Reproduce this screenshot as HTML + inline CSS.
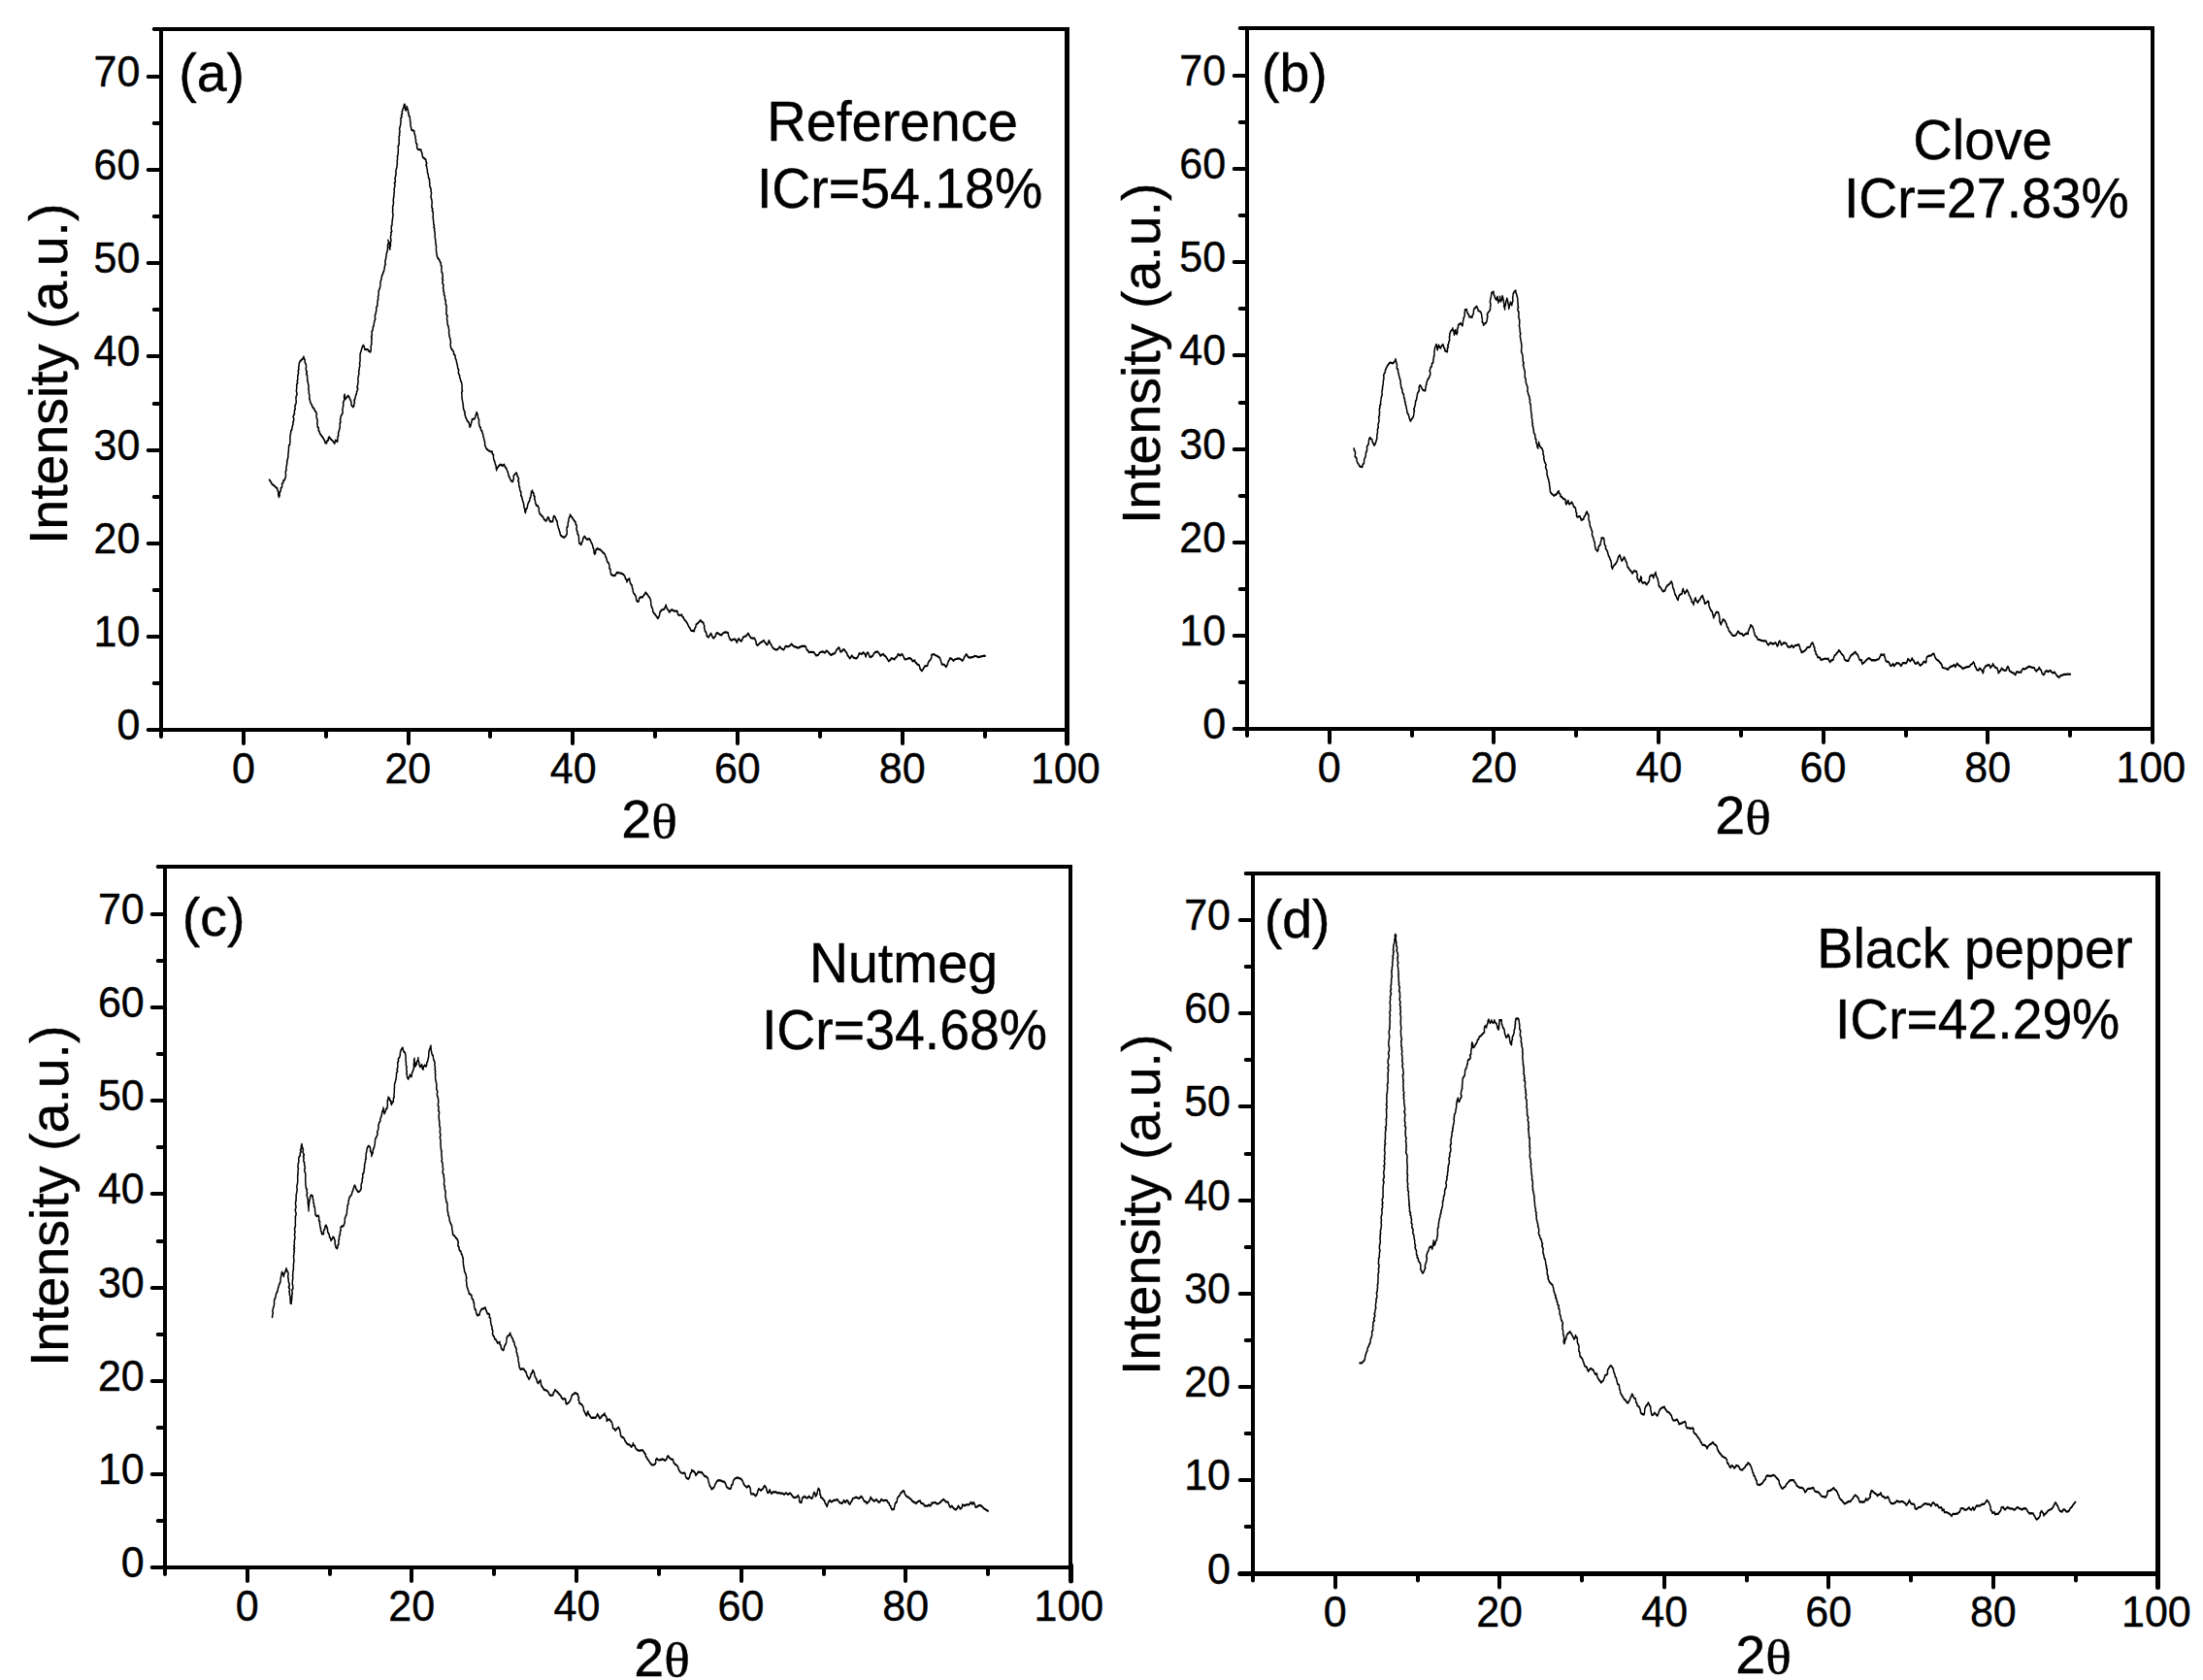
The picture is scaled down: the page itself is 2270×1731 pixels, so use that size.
<!DOCTYPE html>
<html><head><meta charset="utf-8"><title>XRD patterns</title>
<style>html,body{margin:0;padding:0;background:#fff}svg{display:block}text{font-family:"Liberation Sans",sans-serif;fill:#000;stroke:#000;stroke-width:.42px;font-kerning:none}</style>
</head><body>
<svg width="2270" height="1731" viewBox="0 0 2270 1731">
<rect width="2270" height="1731" fill="#fff"/>
<g id="panel-a">
<g stroke="#000" fill="none">
<path d="M158.7 30H166" stroke-width="4" stroke-linecap="round"/>
<path d="M164 30H1102" stroke-width="4"/>
<path d="M166 30V752" stroke-width="4"/>
<path d="M164 752H1102" stroke-width="4"/>
<path d="M1099.5 30V752" stroke-width="5"/>
<path d="M152.7 752H166" stroke-width="4" stroke-linecap="round"/>
<path d="M1099.5 750V766" stroke-width="5" stroke-linecap="round"/>
</g>
<path d="M158.7 704H166M152.7 656H166M158.7 608H166M152.7 560H166M158.7 512H166M152.7 464H166M158.7 416H166M152.7 367H166M158.7 319H166M152.7 271H166M158.7 223H166M152.7 175H166M158.7 127H166M152.7 79H166M166 752V759M251 752V766M336 752V759M421 752V766M505 752V759M590 752V766M675 752V759M760 752V766M845 752V759M930 752V766M1015 752V759" stroke="#000" stroke-width="4" fill="none" stroke-linecap="round"/>
<text transform="translate(120.47,762) scale(1,1.03)" font-size="43" text-anchor="start">0</text>
<text transform="translate(96.55,665.86) scale(1,1.03)" font-size="43" text-anchor="start">10</text>
<text transform="translate(96.55,569.72) scale(1,1.03)" font-size="43" text-anchor="start">20</text>
<text transform="translate(96.55,473.59) scale(1,1.03)" font-size="43" text-anchor="start">30</text>
<text transform="translate(96.55,377.45) scale(1,1.03)" font-size="43" text-anchor="start">40</text>
<text transform="translate(96.55,281.31) scale(1,1.03)" font-size="43" text-anchor="start">50</text>
<text transform="translate(96.55,185.17) scale(1,1.03)" font-size="43" text-anchor="start">60</text>
<text transform="translate(96.55,89.03) scale(1,1.03)" font-size="43" text-anchor="start">70</text>
<text transform="translate(238.91,806.6) scale(1,1.03)" font-size="43" text-anchor="start">0</text>
<text transform="translate(396.43,806.6) scale(1,1.03)" font-size="43" text-anchor="start">20</text>
<text transform="translate(566.75,806.6) scale(1,1.03)" font-size="43" text-anchor="start">40</text>
<text transform="translate(735.88,806.6) scale(1,1.03)" font-size="43" text-anchor="start">60</text>
<text transform="translate(905.76,806.6) scale(1,1.03)" font-size="43" text-anchor="start">80</text>
<text transform="translate(1062.04,806.6) scale(1,1.03)" font-size="43" text-anchor="start">100</text>
<text transform="translate(69,561.12) rotate(-90) scale(1,1.015)" font-size="55.5">Intensity (a.u.)</text>
<text transform="translate(640.21,863) scale(1,1)" font-size="55.5" text-anchor="start">2</text>
<text transform="translate(671.2,863.5) scale(1.09,1)" font-size="51" style="font-family:'Liberation Serif',serif">θ</text>
<text transform="translate(184.16,93.6) scale(1,1)" font-size="55.5" text-anchor="start">(a)</text>
<text transform="translate(790.2,145) scale(1.0107,1.03)" font-size="55.5" text-anchor="start">Reference</text>
<text transform="translate(779.88,214) scale(0.9992,1.03)" font-size="55.5" text-anchor="start">ICr=54.18%</text>
<path transform="scale(1,1.5)" d="M277.1 329.33 278.34 330.33 279.45 331.39 280.33 332.58 281.9 333.4 283.19 334.07 284.43 334.78 285.7 335.47 285.95 336.67 286.72 337.8 286.71 339.03 286.92 340.23 287.4 341.4 288.21 340.26 287.97 338.92 288.69 337.76 289.4 336.6 289.36 335.47 290.53 334.54 290.81 333.47 290.51 332.3 291.91 331.41 291.8 330.27 293.3 329.54 294 328.4 294.38 327.3 294.55 326.19 294.26 325.04 294.32 323.91 295.09 322.85 294.79 321.69 295.14 320.59 295.41 319.49 295.9 318.4 295.56 317.26 296.2 316.2 296.34 315.1 296.95 314.03 296.77 312.9 297.07 311.81 297.09 310.7 297.44 309.61 297.38 308.5 297.6 307.4 297.59 306.27 298.61 305.23 298.84 304.12 298.9 302.99 298.99 301.87 298.8 300.71 298.94 299.59 299.24 298.49 299.7 297.4 299.69 296.06 300.89 294.91 300.94 293.58 301.5 292.33 302.1 291.2 301.82 290 302.67 288.89 302.77 287.71 302.07 286.47 302.52 285.33 303.5 284.23 303.25 283.03 303.5 281.87 304.3 280.86 303.96 279.72 303.89 278.61 304.77 277.62 305.22 276.57 305.2 275.47 305.03 274.32 304.92 273.17 305.28 272.04 306.06 270.92 305.92 269.77 305.31 268.6 305.53 267.47 305.9 266.33 305.63 265.16 305.74 264.02 306.71 262.93 306.2 261.74 306.78 260.63 306.82 259.48 306.7 258.32 307.2 257.2 307.65 256.05 307.2 254.83 307.96 253.7 307.58 252.48 308.11 251.34 308.09 250.15 308.6 249 309.45 248 310.7 247.2 312.28 246.26 313 244.93 313.18 246.24 314.21 247.4 314.09 248.76 315 249.93 315.5 251.05 315.49 252.21 315.18 253.39 315.59 254.51 316.37 255.61 315.59 256.82 316.63 257.9 316.5 259.07 316.95 260.16 316.58 261.31 317.25 262.39 317.48 263.49 317.91 264.59 318.08 265.7 317.73 266.85 318.29 267.93 318.2 269.07 318.32 270.22 318.81 271.34 318.95 272.5 318.63 273.69 319.38 274.79 319.6 275.93 320.53 277.32 321.6 278.67 322.15 279.87 323.7 280.69 324.3 281.87 325.69 283.12 326.4 284.6 326.07 285.84 326.28 287.06 327.02 288.26 327.21 289.47 326.72 290.72 327.1 291.93 327.14 293.16 328.42 294.14 328.12 295.43 329.1 296.47 329.78 297.96 331.2 299.2 332.11 300.15 333.2 301 333.88 302.05 334.81 303.03 335 304.2 336.7 304.2 336.83 303.06 338.37 302.29 338.23 301.08 339.1 300.13 340.43 301.37 342.1 302.4 343.57 303.43 344.6 304.67 345.44 303.6 345.6 302.4 347.6 303.33 347.97 302.26 347.9 301.14 348.04 300.05 348.89 299.03 348.44 297.87 348.88 296.8 349.5 295.76 349.7 294.67 350.3 293.47 350.26 292.23 350.11 290.98 351.02 289.81 350.46 288.53 351 287.33 351.2 285.98 352.16 284.83 353.1 283.67 353.18 282.57 352.9 281.45 353.17 280.37 353.52 279.29 353.88 278.2 353.54 277.08 353.93 276 354.65 274.94 354.89 273.86 354.5 272.73 355.1 270.93 355.16 272.02 355.36 273.09 355.8 274.13 357.27 273.01 358.6 271.8 359.94 272.84 360.6 274.13 361.57 275.41 362.05 276.77 362 278.2 364 279.6 364.79 278.52 364.92 277.34 365.55 276.23 364.88 274.95 365.9 273.9 366.1 272.73 366.61 271.6 367.39 270.52 367.48 269.29 368.2 268.2 368.83 267.04 367.9 265.82 368.51 264.66 368.8 263.48 369.07 262.31 368.97 261.12 368.8 259.93 369.26 258.74 369.59 257.54 369.95 256.34 369.57 255.08 370.17 253.9 370.2 252.67 370.75 251.62 370.83 250.55 370.44 249.46 370.96 248.41 371.15 247.35 370.95 246.27 371.11 245.21 370.96 244.13 371.2 243.07 371.85 241.73 372.45 240.38 372.9 239 374.3 237.13 375.44 238.4 375.7 239.87 377.39 240.07 379.1 240.07 379.97 241.16 381.6 241.73 382.24 240.62 382.3 239.45 382.15 238.27 382.5 237.13 382.86 235.97 382.79 234.79 382.73 233.62 383.27 232.46 382.54 231.26 383.37 230.12 383.2 228.93 383.04 227.79 384.01 226.82 384.23 225.73 384.31 224.62 385.16 223.63 385.3 222.53 385.63 221.32 386.09 220.13 386.75 218.96 386.37 217.66 386.44 216.41 387.3 215.27 387.32 214.18 387.96 213.15 387.68 212.04 387.87 210.97 388.91 209.98 388.7 208.87 389.11 207.66 389.1 206.42 389.83 205.24 389.44 203.96 390.05 202.77 390.1 201.53 390.07 200.28 390.62 199.08 391.33 197.9 391.75 196.69 392.01 195.47 391.9 194.2 392.28 193 392.99 191.87 393.21 190.64 393.52 189.43 394.4 188.33 394.82 187.17 395.6 186.07 396.03 184.91 396.31 183.73 396.5 182.53 397.26 181.47 396.79 180.29 396.94 179.16 397.51 178.08 397.59 176.95 398.1 175.87 398.12 174.58 398.66 173.36 399.21 172.13 399.4 170.87 399.51 169.69 399.44 168.51 400.13 167.36 400.41 166.2 400 165 400.43 166.25 401.22 167.44 401.65 168.69 401.12 170.07 401.9 171.27 401.55 170.06 402.43 168.92 402.43 167.74 402.29 166.54 402.97 165.4 402.8 164.2 402.39 163.09 402.64 162.01 403.11 160.94 402.76 159.83 403.76 158.78 403.23 157.67 403.25 156.57 403.26 155.48 404.02 154.43 404 153.33 404.05 152.22 404.36 151.12 404.5 150.01 404.77 148.9 405.04 147.8 404.85 146.68 404.43 145.54 404.84 144.44 404.62 143.32 404.55 142.2 405.16 141.11 405.3 140 405.64 138.93 405.15 137.83 405.35 136.75 405.53 135.67 406.02 134.61 405.92 133.52 406.13 132.45 406.38 131.37 406.08 130.28 406.3 129.2 406.78 128.13 407.06 127.06 406.33 125.91 407.41 124.88 407.34 123.78 406.85 122.65 407.37 121.59 407.72 120.52 408.19 119.45 407.9 118.33 407.98 117.13 408.4 115.96 408.96 114.8 409.08 113.6 409.46 112.42 409.15 111.19 409.4 110 409.69 108.82 409.33 107.6 410.03 106.44 410.26 105.25 410.2 104.06 410.41 102.87 410.3 101.67 410.12 100.54 411.01 99.47 411.23 98.36 411.36 97.25 411.01 96.11 411.42 95.02 411.04 93.88 411.82 92.8 411.5 91.67 412.09 90.56 411.73 89.37 411.64 88.21 412.24 87.09 412.55 85.96 412.99 84.84 412.89 83.67 413.1 82.53 412.87 81.36 414 80.35 413.48 79.15 414.56 78.13 414.16 76.94 414.8 75.87 415.15 74.78 416.15 73.83 416 72.63 416.9 71.67 417.58 72.67 417.48 73.77 417.56 74.85 418.1 75.87 419.1 74.68 419.4 73.33 419.8 74.64 420.6 75.87 420.43 77.04 421.24 78.09 421.06 79.26 422.31 80.25 422.48 81.38 422.5 82.53 422.72 83.65 423.23 84.73 423 85.89 423.35 86.99 423.73 88.09 424 89.2 426.9 90 426.83 91.29 427.43 92.51 428 93.73 428.1 95 428.58 96.06 428.44 97.21 428.74 98.29 429.84 99.26 429.51 100.44 429.74 101.53 430.6 102.53 432.2 102.75 433.8 102.93 434.17 104.2 435.02 105.38 435.11 106.69 435.6 107.93 437.2 108.77 438.8 109.6 438.93 110.86 439.8 112.06 439.01 113.4 439.74 114.61 440 115.87 440.42 116.96 440.31 118.13 440.88 119.21 441.28 120.31 441.38 121.45 441.9 122.53 442.69 123.59 442.49 124.76 442.94 125.85 442.67 127.04 443.03 128.15 443.8 129.2 444.17 130.27 444.07 131.36 444.57 132.42 444.35 133.52 444.05 134.62 444.08 135.7 444.67 136.76 444.96 137.83 445.22 138.9 445 140 445.02 141.17 444.83 142.36 445.86 143.48 445.29 144.68 446.27 145.8 446.24 146.98 446.35 148.15 446 149.35 446.54 150.49 446.5 151.67 446.84 152.77 446.72 153.9 447.47 154.97 446.96 156.13 447.8 157.19 447.56 158.33 448.02 159.43 448.25 160.53 448.1 161.67 448.23 162.82 448.49 163.96 448.72 165.11 448.84 166.26 448.88 167.42 449.45 168.54 449.56 169.7 449.4 170.87 449.48 172.13 449.7 173.38 450.04 174.62 450.3 175.87 451.07 177.23 452.5 178.33 453.34 179.64 454.4 180.87 454.24 182.09 455.15 183.22 454.82 184.46 454.98 185.66 455.1 186.86 455.97 187.99 456 189.2 456.29 190.27 455.72 191.38 456.58 192.43 455.81 193.54 456.02 194.62 456.94 195.67 456.92 196.75 456.47 197.85 457.07 198.91 456.9 200 457.73 200.99 457.35 202.19 458.18 203.19 458.5 204.27 458.4 205.43 459.33 206.52 459.24 207.68 459.15 208.85 460.09 209.93 460.1 211.09 459.79 212.27 460.2 213.4 459.86 214.59 459.91 215.77 460.97 216.9 460.65 218.09 460.49 219.27 460.88 220.43 461 221.6 461.05 222.74 461.85 223.8 462.23 224.91 462.45 226.03 462.78 227.14 462.48 228.32 462.77 229.43 462.97 230.56 463.3 231.67 463.98 232.79 464.24 233.97 464.52 235.14 464.13 236.39 464.27 237.58 464.64 238.75 465.4 239.87 466.64 240.76 467.52 241.78 467.51 243.13 468.8 244 469.23 245.1 469.29 246.25 470.14 247.29 470.38 248.41 470.71 249.53 471.19 250.62 471.5 251.73 471.74 252.97 472.73 254.11 472.33 255.43 472.53 256.67 473.59 257.8 473.6 259.07 474.31 260.25 474.69 261.53 475.6 262.67 475.79 263.82 476.1 264.97 476.21 266.13 475.91 267.3 476.54 268.44 475.66 269.63 475.84 270.78 476.03 271.93 475.94 273.1 476.28 274.25 476.5 275.4 476.94 276.55 477.06 277.75 477.5 278.9 477.31 280.13 477.84 281.28 478.5 282.4 479.16 283.4 478.86 284.55 479.44 285.56 479.8 286.61 480.5 287.6 481.51 289.06 483.1 290.27 483.7 291.75 484.1 293.27 484.98 292.31 485.42 291.27 485.69 290.19 486.22 289.16 486.4 288.07 489 287.6 489.78 286.57 489.9 285.41 490.73 284.4 491 283.27 491.95 284.19 492.17 285.28 492.5 286.33 492.82 287.42 493.6 288.45 493.51 289.58 493.48 290.71 493.78 291.79 494.2 292.87 495.33 293.93 495.5 295.32 496.8 296.33 497.02 297.42 497.77 298.41 497.83 299.52 498.33 300.56 498.8 301.6 499.16 302.83 499.72 304.04 499.46 305.36 500.25 306.53 500.8 307.73 501.94 308.7 503.4 309.47 505.26 310.08 507.3 310.33 507.18 311.62 508.61 312.68 508.38 313.99 508.64 315.22 509.3 316.4 509.94 317.46 510.17 318.58 510.93 319.63 511.16 320.75 511.35 321.88 511.6 323 512 321.77 513.2 320.8 514.31 319.8 515.8 319.07 517.8 319.93 519.5 319.07 520.21 320.51 521.7 321.67 522.32 322.84 523.03 323.98 523.7 325.13 523.88 326.55 524.96 327.77 525.7 329.07 526.61 330.22 528.3 330.87 528.87 329.69 529.48 328.52 529.12 327.2 530 326.07 532.2 324.73 532.67 325.78 533.07 326.84 533.9 327.8 534.58 328.98 533.79 330.26 534.81 331.42 534.65 332.65 534.8 333.87 535.55 334.86 535.6 335.97 535.88 337.05 536.87 338 536.8 339.13 536.73 340.27 537.68 341.23 537.97 342.3 538.3 343.36 538.8 344.4 539.32 345.49 539.77 346.59 539.75 347.77 540.22 348.87 540.89 349.94 540.8 351.12 541.4 352.2 541.82 350.99 542.16 349.77 543.3 348.73 543.53 347.6 543.82 346.47 544.44 345.41 545.3 344.4 545.97 343.39 545.98 342.27 546.92 341.31 547.16 340.23 547.3 339.13 547.49 337.91 548.6 336.93 548.86 338.18 550.1 339.13 549.9 340.28 551.13 341.26 550.51 342.45 551.31 343.48 551.54 344.57 551.8 345.67 552.48 346.89 554.23 347.6 555.1 348.73 555.4 349.82 555.28 350.96 555.83 352.02 556.4 353.07 558.07 354.15 559.7 355.27 560.28 356.37 561.42 357.18 562.7 357.93 563.75 356.63 564.6 355.27 565.75 356.16 566.01 357.35 566.9 358.33 569.5 358.33 569.89 357.02 570.05 355.66 570.8 354.4 572.12 355.26 572.57 356.45 573.5 357.47 574.28 358.46 574.32 359.56 574.46 360.66 575.07 361.67 575.4 362.73 576.17 363.72 576.35 364.83 577.04 365.83 577.19 366.96 578 367.93 579.63 368.62 581.3 369.27 583.3 367.93 584.08 366.89 584.27 365.8 584.27 364.68 583.97 363.54 584.07 362.43 585.15 361.42 585.27 360.32 585.2 359.2 585.79 358.09 585.97 356.91 586.34 355.76 587.24 354.7 587.5 353.53 588.59 354.66 589.8 355.73 590.82 356.79 591.88 357.83 593.1 358.8 593.16 359.93 594.1 360.93 594.37 362.03 593.92 363.23 594.32 364.31 595.1 365.33 594.96 366.5 596.14 367.53 596.39 368.65 596.43 369.8 596.54 370.94 596.59 372.09 597 373.2 599 374.07 599.25 372.83 600.36 371.81 600.54 370.55 601.22 369.42 602.3 368.4 603.45 369.55 604.9 370.53 607.5 370.13 608.32 371.31 609.1 372.49 610.1 373.6 610.67 374.74 610.99 375.93 611.71 377.05 612 378.24 612.01 379.48 612.7 380.6 613.71 379.72 613.62 378.5 614.34 377.53 615.4 376.67 616.87 377.31 618.6 377.53 619.84 378.46 621.06 379.41 622.6 380.13 623.54 381.16 623.98 382.31 624.8 383.37 625.2 384.53 625.76 385.79 627.06 386.8 627.8 388 627.97 389.12 627.94 390.27 628.99 391.27 629.08 392.41 629.2 393.54 629.8 394.6 631.6 395.33 633.7 395.47 634.63 394.34 635.7 393.27 637.33 393.37 638.9 393.67 641.1 394.07 642.9 395 644.1 396 644.31 397.31 645.74 398.35 645.9 399.67 646.9 398.4 648.6 397.53 648.98 399.08 649.5 400.6 650.41 401.49 651.3 402.4 651.43 403.73 652.18 405 652.3 406.33 652.94 407.5 654.1 408.47 655.09 409.5 655.5 410.67 655.58 411.9 656.3 413 658.2 413 658.41 411.54 659.5 410.27 662.2 410.27 663.01 409.08 664.41 408.13 665.2 406.93 667.2 408.47 668.18 409.58 669.5 410.53 670.08 411.63 670.58 412.75 670.7 413.91 670.9 415.07 671.11 416.32 671.94 417.48 672.66 418.65 672.7 419.93 673.87 421.23 675.4 422.33 676.59 423.6 677.9 424.8 678.84 423.82 679.36 422.76 679.83 421.69 679.9 420.53 681.8 419 684.5 418.4 685.34 417.02 686.3 415.67 686.68 417.11 687.7 418.4 688.93 419.39 689.8 420.53 690.85 419.54 692.2 418.73 694.5 419.67 697.6 419.67 698.34 420.64 698.43 421.79 699.5 422.67 702.6 422.33 702.98 423.49 704.38 424.3 704.9 425.4 706.37 426.4 707.6 427.53 708.68 428.82 709.5 430.2 710.53 431.17 711.4 432.21 712.2 433.27 713.82 433.32 715.4 433.53 715.53 432.34 716.37 431.28 717.07 430.19 717.2 429 718.58 428.29 719.9 427.53 721.7 426 723.06 427.09 724.9 427.8 725.16 428.88 725.9 429.89 725.6 431.04 726.2 432.07 726.27 433.28 727.38 434.29 728.13 435.37 728.1 436.6 729.9 437.8 730.81 436.9 731.74 436 732.6 435.07 733.43 436.2 733.95 437.45 735.3 438.4 736.36 437.55 737.43 436.69 737.68 435.47 739 434.73 740.48 435.28 741.86 435.94 743.5 436.27 744.53 435.15 746.2 434.47 748.29 434.29 750.3 434.73 750.5 436.14 751.2 437.47 751.98 438.85 753.5 439.93 755.4 439.18 757.6 439 758.37 440.24 759.4 441.4 759.94 439.93 761.2 438.67 762.36 439.73 763.9 440.53 764.95 439.21 765.7 437.8 767.19 437.16 768.9 436.87 769.82 435.83 771.2 435.07 771.71 436.16 772.71 437.07 773.5 438.07 775.46 438.43 777.5 438.4 778.31 439.59 779.07 440.79 779.12 442.17 780.3 443.27 781.77 442.6 783 441.73 784.36 441.13 785.76 440.56 787.1 439.93 787.97 441.03 789.05 442.02 790.3 442.93 791.44 442.07 791.68 440.9 792.5 439.93 793.08 441.24 794.14 442.39 795.2 443.53 796.03 444.75 797.5 445.67 799.01 446.18 800.7 446.27 802.33 445.36 803.4 444.13 804.5 445.07 805.82 445.82 807.5 446.27 808.54 445.11 809.3 443.87 810.9 444.02 812.5 444.13 814.25 443.35 815.7 442.33 816.81 443.39 818.4 444.13 820.48 444.55 822.5 445.07 824.26 444.41 826.1 443.87 828.19 443.74 830.2 444.13 830.77 445.2 831.33 446.27 832.72 447.04 833.4 448.07 835.14 447.85 836.87 447.89 838.6 448.13 839.82 449.17 840.9 450.27 843.2 449.93 844.5 448.4 846.01 447.83 847.7 447.53 850 448.4 851.8 446.93 854.1 448.4 855.11 449.43 856.8 449.93 858.38 449.04 860.4 448.73 861.11 447.47 862.2 446.33 864.3 444.8 865.35 445.69 865.48 446.84 866.3 447.8 867.86 447.04 869 446 870.4 446.6 871.3 447.53 872.63 448.59 873.1 449.93 874.49 451.12 875.8 452.33 876.83 451.33 877.7 450.27 879.5 451.73 882.2 452.33 883.71 451.48 884.5 450.27 885.4 448.73 888.1 449.33 889.5 448.13 890.84 448.96 891.67 449.99 892.2 451.13 892.48 450.05 893.11 449.06 894 448.13 895.16 449.15 895.59 450.43 896.7 451.47 898.16 450.93 899.5 450.27 900.35 449.09 901.7 448.13 904 447.53 905.35 448.4 906.33 449.44 907.2 450.53 908.57 449.73 910.3 449.33 911.15 450.26 912.59 450.84 913.5 451.73 914.6 452.99 915.8 454.2 917.42 453.28 918.5 452.07 920.11 452.52 921.7 453 922.38 451.99 923.86 451.32 924.78 450.42 925.3 449.33 927.6 450.27 929.4 449.33 930.45 450.19 931.16 451.19 931.68 452.27 933 453 934.53 452.68 935.98 452.18 937.6 452.07 939.33 452.92 940.3 454.2 942.6 453.6 943.07 454.8 944.4 455.67 945.56 456.48 947.1 456.93 947.67 458.11 948 459.33 950 460.87 951.03 459.77 952.01 458.65 953 457.53 955.7 457.2 956.17 455.78 957.1 454.47 958.9 453 959.88 451.54 959.8 449.93 962.1 449.33 963.62 450.03 965.3 450.53 966.69 451.1 968.06 451.69 968.9 452.67 969.4 453.86 969.97 455.04 970.3 456.27 973 456.6 974.8 458.13 975.87 457 976.55 455.75 977.1 454.47 978.1 453.3 978.9 452.07 980.93 452.77 982.5 453.87 983.64 453.06 985.2 452.67 986.77 452.37 988.4 452.33 990.15 452.96 991.6 453.87 992.85 452.93 993.4 451.73 994.56 450.54 995.7 449.33 996.65 450.2 997.43 451.17 998.9 451.73 1002 451.47 1004.8 450.53 1006.46 450.84 1007.9 451.47 1010.21 451.09 1012.5 450.67 1014.1 450.41 1015.7 450.67" stroke="#000" stroke-width="1.5" fill="none" stroke-linejoin="round"/>
</g>
<g id="panel-b">
<g stroke="#000" fill="none">
<path d="M1277.7 29H1285" stroke-width="4" stroke-linecap="round"/>
<path d="M1283 29H2220" stroke-width="4"/>
<path d="M1285 29V751" stroke-width="4"/>
<path d="M1283 751H2220" stroke-width="4"/>
<path d="M2218 29V751" stroke-width="4"/>
<path d="M1271.7 751H1285" stroke-width="4" stroke-linecap="round"/>
<path d="M2218 749V765" stroke-width="4" stroke-linecap="round"/>
</g>
<path d="M1277.7 703H1285M1271.7 655H1285M1277.7 607H1285M1271.7 559H1285M1277.7 511H1285M1271.7 463H1285M1277.7 415H1285M1271.7 366H1285M1277.7 318H1285M1271.7 270H1285M1277.7 222H1285M1271.7 174H1285M1277.7 126H1285M1271.7 78H1285M1285 751V758M1370 751V765M1455 751V758M1539 751V765M1624 751V758M1709 751V765M1794 751V758M1879 751V765M1964 751V758M2048 751V765M2133 751V758" stroke="#000" stroke-width="4" fill="none" stroke-linecap="round"/>
<text transform="translate(1239.27,761) scale(1,1.03)" font-size="43" text-anchor="start">0</text>
<text transform="translate(1215.35,664.86) scale(1,1.03)" font-size="43" text-anchor="start">10</text>
<text transform="translate(1215.35,568.72) scale(1,1.03)" font-size="43" text-anchor="start">20</text>
<text transform="translate(1215.35,472.59) scale(1,1.03)" font-size="43" text-anchor="start">30</text>
<text transform="translate(1215.35,376.45) scale(1,1.03)" font-size="43" text-anchor="start">40</text>
<text transform="translate(1215.35,280.31) scale(1,1.03)" font-size="43" text-anchor="start">50</text>
<text transform="translate(1215.35,184.17) scale(1,1.03)" font-size="43" text-anchor="start">60</text>
<text transform="translate(1215.35,88.03) scale(1,1.03)" font-size="43" text-anchor="start">70</text>
<text transform="translate(1357.86,805.6) scale(1,1.03)" font-size="43" text-anchor="start">0</text>
<text transform="translate(1515.3,805.6) scale(1,1.03)" font-size="43" text-anchor="start">20</text>
<text transform="translate(1685.52,805.6) scale(1,1.03)" font-size="43" text-anchor="start">40</text>
<text transform="translate(1854.56,805.6) scale(1,1.03)" font-size="43" text-anchor="start">60</text>
<text transform="translate(2024.35,805.6) scale(1,1.03)" font-size="43" text-anchor="start">80</text>
<text transform="translate(2180.54,805.6) scale(1,1.03)" font-size="43" text-anchor="start">100</text>
<text transform="translate(1195,540.12) rotate(-90) scale(1,1.015)" font-size="55.5">Intensity (a.u.)</text>
<text transform="translate(1767.21,859) scale(1,1)" font-size="55.5" text-anchor="start">2</text>
<text transform="translate(1798.2,859.5) scale(1.09,1)" font-size="51" style="font-family:'Liberation Serif',serif">θ</text>
<text transform="translate(1299.96,93.6) scale(1,1)" font-size="55.5" text-anchor="start">(b)</text>
<text transform="translate(1971.25,164) scale(1.0124,1.03)" font-size="55.5" text-anchor="start">Clove</text>
<text transform="translate(1899.89,224) scale(0.9982,1.03)" font-size="55.5" text-anchor="start">ICr=27.83%</text>
<path transform="scale(1,1.5)" d="M1395.4 307.53 1395.12 308.82 1396.24 310 1396.6 311.24 1396.3 312.53 1396.22 313.67 1397.53 314.54 1398.05 315.56 1398.1 316.67 1398.78 317.83 1399.92 318.84 1400.6 320 1402.07 320.61 1403.8 320.67 1404.12 319.28 1405.48 318.1 1405.6 316.67 1405.79 315.48 1406.47 314.36 1407.2 313.25 1407.32 312.06 1407.5 310.87 1408.43 309.69 1408.67 308.4 1408.44 307.04 1409.4 305.87 1410.23 304.9 1410.34 303.8 1410.46 302.71 1410.75 301.65 1411.5 300.67 1413.8 302.07 1414.14 303.42 1415.11 304.62 1415.9 305.87 1417.28 304.74 1417.8 303.33 1418.4 302.12 1418.9 300.89 1418.77 299.59 1419 298.33 1419.42 297.19 1419.52 296.02 1419.34 294.83 1420.3 293.73 1420 292.53 1419.98 291.33 1420.68 290.17 1421.05 289 1420.91 287.78 1420.54 286.55 1421.47 285.42 1421.3 284.2 1421.65 283.14 1421.3 282.02 1421.32 280.94 1422.02 279.9 1421.65 278.78 1422.79 277.78 1422.5 276.67 1422.76 275.56 1423.02 274.45 1423.15 273.32 1423.68 272.24 1424.2 271.16 1424 270 1423.98 268.92 1424.23 267.86 1424.65 266.81 1424.52 265.72 1425.03 264.67 1425.16 263.6 1425.3 262.53 1425.43 261.35 1425.89 260.2 1425.93 259.02 1425.65 257.81 1426.3 256.67 1427.41 255.68 1427.35 254.41 1428.1 253.33 1428.98 252.08 1430 250.87 1431.07 249.89 1432.3 249 1435 249.6 1436.42 248.8 1437.47 247.84 1438.1 246.67 1438.41 247.92 1438.86 249.15 1439.51 250.37 1439.4 251.67 1439.35 252.9 1440.51 253.96 1440.49 255.19 1441.08 256.34 1441.3 257.53 1441.85 258.62 1442.19 259.73 1442.73 260.82 1443.26 261.9 1443.1 263.09 1443.5 264.2 1443.56 265.41 1444.1 266.54 1444.96 267.63 1444.81 268.87 1445.4 270 1446.39 270.95 1446.54 272.08 1446.63 273.23 1447.5 274.2 1447.36 275.37 1448.18 276.42 1448.08 277.58 1448.77 278.64 1449.06 279.76 1449.4 280.87 1449.79 281.92 1449.83 283.04 1450.57 284.02 1451.3 285 1451.85 286.04 1452.11 287.15 1452.73 288.18 1453.4 289.2 1454.57 287.87 1456 286.67 1456.56 285.59 1456.85 284.48 1456.87 283.35 1457.48 282.27 1456.73 281.06 1457.5 280 1457.88 278.89 1458.41 277.8 1458.48 276.64 1458.68 275.5 1459.62 274.48 1459.8 273.33 1460.16 272.29 1460.4 271.22 1460.59 270.14 1461.5 269.2 1462.4 268.13 1462.14 266.88 1462.29 265.69 1463.1 264.6 1464.2 265.48 1465 266.47 1465.6 267.53 1467.06 268.18 1468.8 268.33 1468.75 267.18 1469.16 266.08 1469.26 264.95 1469.97 263.88 1469.98 262.74 1470.6 261.67 1471.28 260.5 1472.5 259.52 1473.1 258.33 1473.75 257.21 1473.83 256.04 1473.13 254.82 1473.69 253.68 1474 252.53 1475.31 251.38 1475.48 249.84 1476.9 248.73 1476.75 247.59 1477.23 246.48 1477.29 245.35 1477.86 244.26 1478 243.13 1477.89 241.99 1478.1 240.87 1478.31 239.76 1478.77 238.71 1479.28 237.67 1480 236.67 1480.9 237.84 1480.69 239.18 1481.3 240.4 1481.33 239.23 1482.52 238.24 1482.5 237.07 1483.31 238.19 1484.4 239.2 1485.24 237.75 1486.9 236.67 1487.38 237.72 1487.74 238.79 1488.81 239.72 1488.8 240.87 1491.3 241.67 1491.54 240.55 1491.29 239.39 1492.34 238.36 1491.76 237.17 1492.69 236.13 1492.8 235 1493.59 233.95 1493.71 232.82 1493.31 231.64 1493.9 230.56 1493.74 229.4 1494.4 228.33 1495.08 227.3 1496.41 226.51 1496.9 225.4 1496.93 226.6 1498.18 227.62 1498.15 228.83 1498.4 230 1499.02 228.92 1498.99 227.71 1499.8 226.67 1500.08 228.19 1501 229.6 1501.73 228.39 1501.66 227.1 1501.75 225.82 1502.58 224.63 1502.5 223.33 1505 222.07 1506.9 223.73 1507.29 222.5 1507.32 221.21 1507.8 219.98 1508.05 218.72 1508.8 217.53 1509.32 216.4 1509.11 215.23 1509.47 214.1 1509.4 212.93 1511.3 212.53 1511.59 213.86 1512.06 215.14 1513.5 216.21 1513.8 217.53 1516.9 217.93 1517.22 216.74 1518.14 215.65 1518.44 214.46 1518.46 213.22 1519 212.07 1520.37 211.31 1521.5 210.4 1522.62 211.79 1523.1 213.33 1525.6 214.2 1526.33 215.29 1526.81 216.42 1526.82 217.61 1527.33 218.73 1527.39 219.91 1527.27 221.12 1528.51 222.14 1528.5 223.33 1529.68 222.54 1531.06 221.87 1531.9 220.87 1532.25 219.7 1532.41 218.52 1532.91 217.37 1532.34 216.13 1533.1 215 1535 213.33 1535.65 212.22 1535.53 211.06 1535.82 209.93 1536.01 208.79 1535.37 207.6 1535.5 206.45 1535.79 205.32 1536.3 204.2 1536.61 202.73 1536.9 201.27 1539 200.4 1539.03 201.94 1540 203.33 1540.55 204.73 1541.9 205.87 1542.41 204.78 1543.1 203.73 1543.27 205.15 1543.44 206.56 1544 207.93 1544.22 206.85 1545.3 205.92 1545.67 204.86 1545.6 203.73 1545.65 204.87 1545.77 206.01 1546.5 207.07 1547.35 205.88 1547.73 204.61 1548.1 203.33 1548.62 204.46 1548.99 205.6 1549.36 206.75 1549.4 207.93 1550.18 209.03 1549.54 210.29 1550.52 211.36 1550.6 212.53 1550.42 211.21 1551.07 209.98 1551.6 208.73 1551.57 207.43 1552.34 206.24 1552.8 205 1553.48 206.44 1553.8 207.93 1554.49 209.27 1554.49 210.69 1554.8 212.07 1555.08 210.92 1555.39 209.78 1556.26 208.72 1556.3 207.53 1557.24 208.5 1557.8 209.6 1558.08 208.35 1558.69 207.13 1559.02 205.88 1558.62 204.58 1559 203.33 1559.17 201.77 1560.3 200.4 1561.9 199.6 1561.82 200.91 1562.68 202.09 1563.1 203.33 1563.56 204.43 1563.81 205.53 1563.84 206.65 1563.91 207.77 1564.25 208.87 1564 210 1564.66 211.08 1563.79 212.26 1564.15 213.36 1565.09 214.42 1564.85 215.55 1565 216.67 1564.79 217.83 1565.25 218.97 1565.85 220.09 1565.68 221.26 1565.76 222.41 1565.3 223.59 1565.78 224.72 1566 225.87 1566.19 226.93 1566.14 228.01 1566.92 229.04 1566.37 230.15 1566.38 231.22 1566.67 232.28 1567 233.33 1567.27 234.42 1567.46 235.51 1567.88 236.58 1567.91 237.68 1567.94 238.77 1567.73 239.88 1567.48 240.99 1567.9 242.07 1568.75 243.48 1569 245 1569.2 246.11 1569.18 247.23 1569.36 248.34 1570.19 249.41 1569.37 250.59 1570 251.67 1570.23 252.93 1570.86 254.14 1571.26 255.38 1571.3 256.67 1571.29 257.86 1571.23 259.05 1572.08 260.17 1572.21 261.35 1572.3 262.53 1572.84 263.78 1573.5 265 1574.11 266.14 1574.12 267.34 1573.83 268.56 1574.48 269.7 1574.8 270.87 1576 272.53 1575.86 273.67 1576.69 274.73 1576.25 275.9 1576.56 277 1577.38 278.06 1577.3 279.2 1577.44 280.39 1577.44 281.59 1577.73 282.78 1577.87 283.97 1578.44 285.13 1578.27 286.35 1578.5 287.53 1578.92 288.68 1578.7 289.89 1579.42 291 1579.02 292.23 1579.8 293.33 1579.88 294.45 1580.43 295.54 1580.3 296.67 1580.92 297.76 1581.76 298.81 1581.9 300 1581.94 301.08 1582.99 302.04 1582.69 303.16 1583.1 304.2 1583.87 305.4 1583.94 306.75 1584.8 307.93 1584.66 306.5 1585.53 305.15 1585.6 303.73 1586.02 305.24 1586.9 306.67 1588.11 307.54 1589.17 308.47 1589.8 309.6 1590.1 310.67 1589.96 311.77 1590.54 312.82 1590.98 313.88 1590.6 315 1591.29 316.1 1591.55 317.3 1592.5 318.33 1593.11 319.52 1592.49 320.82 1593.19 322 1593.8 323.19 1594.1 324.41 1593.9 325.67 1594.54 326.91 1594.93 328.2 1595.75 329.41 1595.9 330.73 1596.62 331.9 1596.43 333.16 1596.97 334.34 1597.03 335.57 1597.29 336.78 1597.5 338 1598.61 338.97 1599.97 339.77 1601.3 340.6 1602.54 339.86 1604.1 339.47 1604.86 338.27 1606.2 337.33 1606.39 338.61 1607.8 339.63 1607.9 340.93 1609.51 341.45 1610.6 342.4 1612.8 343.13 1613.63 344.15 1613.18 345.36 1613.9 346.4 1614.99 345.15 1616 343.87 1616.1 345.22 1617.1 346.4 1618.44 345.74 1619.6 344.93 1620.72 346.32 1621.5 347.8 1623.3 348.93 1623.74 350.15 1623.77 351.42 1624.67 352.58 1624.41 353.88 1625.1 355.07 1628 354.73 1628.8 355.98 1629.4 357.27 1631.8 356.53 1632.19 355.13 1633.5 354 1634.14 352.69 1635.1 351.47 1635.71 352.57 1636.79 353.55 1637.1 354.73 1636.93 356.04 1637.19 357.31 1637.91 358.53 1638.2 359.8 1638.22 360.98 1638.9 362.04 1639.51 363.11 1640 364.2 1640.79 365.41 1640.36 366.81 1640.82 368.07 1641.7 369.27 1642.15 370.53 1642.62 371.78 1643.36 373 1643.3 374.33 1643.72 375.82 1644.4 377.27 1646 378.67 1646.91 377.54 1646.95 376.24 1647.6 375.07 1649.1 374 1649.12 372.88 1649.72 371.81 1650.17 370.73 1650.1 369.6 1652.3 369.6 1652.98 370.74 1653.19 371.94 1653.12 373.17 1653.6 374.33 1654.64 375.31 1654.4 376.59 1655.3 377.6 1656.29 378.81 1656.9 380.13 1657.29 381.55 1658.41 382.79 1659.1 384.13 1659.79 385.27 1660.27 386.44 1660.49 387.63 1660.4 388.87 1661.5 390.67 1662.21 389.32 1663.4 388.13 1664.72 387.35 1665.6 386.33 1666.47 385.32 1666.87 384.19 1667.3 383.07 1668.9 381.27 1669.83 382.55 1670.2 383.97 1671.1 385.27 1672.52 384.06 1673.5 382.67 1674.58 384.09 1675.4 385.6 1676.41 386.85 1676.57 388.26 1677.1 389.6 1678.39 390.37 1679.2 391.4 1680.88 392.53 1682 393.93 1683.6 392.13 1686.3 392.53 1686.69 393.79 1687.31 395.02 1686.69 396.38 1687.4 397.6 1688.42 398.59 1689 399.73 1689.98 398.62 1690.38 397.39 1690.7 396.13 1691.62 397.13 1691.07 398.37 1691.57 399.44 1692.3 400.47 1695 400.13 1696.7 401.6 1697.77 400.68 1698.8 399.73 1699.58 398.59 1699.51 397.33 1699.9 396.13 1701.04 395.3 1702.7 395.07 1703.8 396.87 1704.21 395.55 1705.14 394.37 1706.1 393.2 1706.22 394.49 1706.75 395.71 1707.6 396.87 1708.33 397.91 1708.4 399.03 1708.98 400.09 1709.17 401.2 1709.2 402.33 1710.67 403.33 1711.9 404.47 1713.6 406.27 1715.7 405.6 1716.16 404.48 1716.8 403.4 1718.18 402.12 1720.1 401.2 1721.24 400.37 1722.1 399.4 1723.12 400.81 1723.6 402.33 1723.66 403.57 1724.57 404.66 1725.1 405.82 1725.5 407 1725.96 408.29 1727.13 409.4 1727.7 410.67 1729 412.13 1729.42 410.85 1729.94 409.59 1731 408.47 1733.2 407.73 1733.35 406.61 1733.65 405.51 1734.3 404.47 1734.59 405.61 1735.52 406.61 1735.9 407.73 1737.2 406.54 1738.1 405.2 1739.03 406.22 1739.93 407.25 1740.2 408.47 1741.24 409.5 1741.9 410.67 1742.81 411.82 1743.09 413.16 1744.6 414.13 1745.1 415.4 1745.29 414.16 1745.74 412.96 1746.34 411.8 1747.1 410.67 1747.45 411.9 1748.27 412.98 1749.5 413.93 1750.35 412.72 1751.7 411.73 1752.65 410.28 1754.4 409.2 1754.85 410.29 1755.19 411.4 1756.13 412.41 1756.25 413.56 1756.6 414.67 1758.44 413.92 1759.9 412.87 1760.95 414.04 1760.72 415.44 1761.28 416.7 1762 417.93 1762.84 419.15 1764.2 420.13 1764.61 421.21 1765.04 422.29 1765.38 423.39 1765.8 424.47 1766.14 423.35 1767.21 422.47 1767.64 421.39 1768.6 420.47 1770.6 420.67 1771.04 421.84 1771.58 423 1771.69 424.19 1772.04 425.37 1771.8 426.6 1772.56 427.85 1773.4 429.07 1773.79 427.78 1774.79 426.64 1775.4 425.4 1777.7 426.6 1778.3 427.82 1779.18 428.98 1779.5 430.27 1780.78 431.52 1781.3 433 1782.37 433.95 1783.6 434.8 1784.34 435.77 1785.4 436.6 1787.03 436.61 1788.6 436.33 1789.76 434.97 1790.9 433.6 1792.7 435.13 1795 435.4 1796.3 436.6 1797.75 435.91 1799.1 435.13 1801.3 435.4 1801.26 434.01 1802.03 432.74 1802.7 431.47 1803.56 430.47 1803.8 429.33 1805.6 430.27 1806.26 431.44 1807.08 432.58 1807.2 433.87 1807.88 434.87 1808.06 436 1809 436.93 1810.52 437.97 1811.3 439.33 1813.02 439.36 1814.5 439.93 1817.2 440.27 1819.5 440.27 1820.4 441.18 1820.96 442.24 1822.2 443 1823.26 442.18 1824.5 441.47 1826.7 442.4 1829.5 441.47 1830.65 442.58 1831.3 443.87 1832.46 442.75 1832.7 441.33 1834 440.27 1834.91 441.58 1835.4 443 1836.82 442.29 1838.1 441.47 1840.8 442.07 1841.36 443.38 1842.6 444.47 1844.9 444.47 1846.3 443.27 1847.9 444.8 1849.9 443.27 1851.8 443.22 1853.5 442.67 1854.38 444.13 1854.9 445.67 1855.79 446.84 1856.2 448.13 1858.5 447.53 1860.8 446.33 1862.1 444.8 1864.9 444.47 1865.67 443.42 1866.34 442.32 1867.6 441.47 1868.6 442.6 1868.86 443.94 1869.9 445.07 1869.75 446.44 1870.88 447.66 1871 449 1872.41 450.08 1873 451.47 1875.3 451.73 1876.2 453.27 1878.34 452.97 1880.3 452.33 1882.1 452.68 1883.9 452.33 1884.56 453.67 1885.8 454.8 1887.1 453.53 1888.9 453.27 1889.51 451.75 1890.3 450.27 1891.84 449.46 1893 448.4 1894.14 447.61 1894.8 446.6 1896.6 448.13 1897.8 449.32 1899.4 450.27 1900.14 451.35 1900.37 452.59 1901.6 453.53 1903.15 453.9 1904.8 453.87 1905.13 452.79 1905.93 451.85 1906.6 450.87 1907.71 449.87 1909.4 449.33 1910.5 448.5 1911.8 447.8 1912.77 449.01 1914.3 449.93 1914.95 451.04 1915.54 452.16 1916.2 453.27 1918.4 453.53 1918.35 454.79 1918.9 456 1921.2 454.8 1923 453.53 1924.34 452.55 1926.2 452.07 1928.4 453.53 1930.45 453.43 1932.5 453.53 1934.29 453.09 1936.1 452.67 1936.73 451.64 1937.55 450.67 1938 449.6 1939.8 449.92 1941.6 449.6 1941.73 450.81 1942.45 451.91 1942.75 453.08 1943.4 454.2 1946.1 454.8 1946.96 455.7 1947.46 456.78 1948.8 457.47 1950.7 456 1951.6 457.47 1953.03 456.48 1954.3 455.4 1957 455.67 1957.92 456.61 1959 457.47 1959.75 456.4 1960.7 455.4 1962.46 455.41 1964.2 455.53 1965.32 454.17 1965.9 452.67 1967.15 453.37 1968.2 454.2 1969.58 453.29 1970.2 452.07 1971.04 453.22 1972.3 454.2 1972.78 455.29 1974.1 456 1976.3 454.8 1977.26 456.08 1978.6 457.2 1980.9 456 1982.2 454.47 1984.5 455.07 1984.88 453.88 1984.96 452.65 1985.4 451.47 1987.2 450.53 1990 450.27 1991.04 449.34 1992.7 449 1993.3 450.27 1993.98 451.52 1995 452.67 1996.21 453.4 1997.7 453.87 1998.58 454.89 1999.9 455.67 2001.08 456.92 2001.3 458.4 2002.85 458.83 2004.5 459 2007.2 459.93 2008.17 458.93 2009.5 458.13 2012.2 457.47 2013.6 456.6 2014.9 458.13 2015.69 456.86 2016.7 455.67 2017.82 456.76 2019.5 457.47 2021.12 458.35 2022.6 459.33 2025.4 458.4 2027.44 458.08 2029.5 457.8 2030.5 456.67 2032.2 456 2033.5 454.8 2034.53 456.06 2034.9 457.47 2036.09 458.61 2036.7 459.93 2038.5 460.53 2039.9 459 2041.7 460.2 2042.78 461.17 2043.3 462.33 2043.86 461.14 2043.89 459.84 2044.9 458.73 2045.73 457.75 2047.2 457.2 2049.4 456.6 2050.52 457.55 2050.8 458.73 2051.91 457.92 2053.03 457.1 2053.5 456 2054.42 457.3 2055.8 458.4 2058 459 2058.35 460.11 2059.13 461.16 2059.1 462.33 2061.2 460.8 2062.6 459 2063.75 459.93 2065.3 460.53 2067.6 460.2 2067.87 458.91 2068.9 457.8 2070.04 459.07 2070.3 460.53 2072.6 461.73 2074.8 462.33 2076.7 463.53 2077.36 462.47 2078 461.4 2080.26 461.83 2082.6 461.73 2083.31 460.47 2084.4 459.33 2086.6 459.6 2088.5 458.73 2090.7 457.8 2093.5 458.4 2096.2 458.73 2096.96 460.07 2098.4 461.13 2099.18 460.15 2100.69 459.5 2101.2 458.4 2102.08 459.57 2103.4 460.53 2103.81 461.66 2104.46 462.7 2105.7 463.53 2106.89 462.75 2107.22 461.59 2108.4 460.8 2110.7 461.4 2112.5 460.53 2113.84 461.44 2115.2 462.33 2117.1 461.73 2117.96 462.65 2118.9 463.53 2120.08 464.55 2121.6 465.33 2122.76 464.45 2124.3 463.87 2127 463.27 2128.72 463.32 2130.45 463.11 2132.18 463.04 2133.9 463.27" stroke="#000" stroke-width="1.5" fill="none" stroke-linejoin="round"/>
</g>
<g id="panel-c">
<g stroke="#000" fill="none">
<path d="M162.7 893H170" stroke-width="4" stroke-linecap="round"/>
<path d="M168 893H1105" stroke-width="4"/>
<path d="M170 893V1615" stroke-width="4"/>
<path d="M168 1615H1105" stroke-width="4"/>
<path d="M1103 893V1615" stroke-width="4"/>
<path d="M156.7 1615H170" stroke-width="4" stroke-linecap="round"/>
<path d="M1103.5 1613V1629" stroke-width="5" stroke-linecap="round"/>
</g>
<path d="M162.7 1567H170M156.7 1519H170M162.7 1471H170M156.7 1423H170M162.7 1375H170M156.7 1327H170M162.7 1279H170M156.7 1230H170M162.7 1182H170M156.7 1134H170M162.7 1086H170M156.7 1038H170M162.7 990H170M156.7 942H170M170 1615V1622M255 1615V1629M340 1615V1622M424 1615V1629M509 1615V1622M594 1615V1629M679 1615V1622M764 1615V1629M849 1615V1622M933 1615V1629M1018 1615V1622" stroke="#000" stroke-width="4" fill="none" stroke-linecap="round"/>
<text transform="translate(124.87,1625) scale(1,1.03)" font-size="43" text-anchor="start">0</text>
<text transform="translate(100.95,1528.86) scale(1,1.03)" font-size="43" text-anchor="start">10</text>
<text transform="translate(100.95,1432.72) scale(1,1.03)" font-size="43" text-anchor="start">20</text>
<text transform="translate(100.95,1336.59) scale(1,1.03)" font-size="43" text-anchor="start">30</text>
<text transform="translate(100.95,1240.45) scale(1,1.03)" font-size="43" text-anchor="start">40</text>
<text transform="translate(100.95,1144.31) scale(1,1.03)" font-size="43" text-anchor="start">50</text>
<text transform="translate(100.95,1048.17) scale(1,1.03)" font-size="43" text-anchor="start">60</text>
<text transform="translate(100.95,952.03) scale(1,1.03)" font-size="43" text-anchor="start">70</text>
<text transform="translate(242.86,1669.6) scale(1,1.03)" font-size="43" text-anchor="start">0</text>
<text transform="translate(400.3,1669.6) scale(1,1.03)" font-size="43" text-anchor="start">20</text>
<text transform="translate(570.52,1669.6) scale(1,1.03)" font-size="43" text-anchor="start">40</text>
<text transform="translate(739.56,1669.6) scale(1,1.03)" font-size="43" text-anchor="start">60</text>
<text transform="translate(909.35,1669.6) scale(1,1.03)" font-size="43" text-anchor="start">80</text>
<text transform="translate(1065.54,1669.6) scale(1,1.03)" font-size="43" text-anchor="start">100</text>
<text transform="translate(70,1408.12) rotate(-90) scale(1,1.015)" font-size="55.5">Intensity (a.u.)</text>
<text transform="translate(653.21,1727) scale(1,1)" font-size="55.5" text-anchor="start">2</text>
<text transform="translate(684.2,1727.5) scale(1.09,1)" font-size="51" style="font-family:'Liberation Serif',serif">θ</text>
<text transform="translate(187.66,963.9) scale(1,1)" font-size="55.5" text-anchor="start">(c)</text>
<text transform="translate(834.05,1012) scale(0.9984,1.03)" font-size="55.5" text-anchor="start">Nutmeg</text>
<text transform="translate(784.88,1081) scale(0.9989,1.03)" font-size="55.5" text-anchor="start">ICr=34.68%</text>
<path transform="scale(1,1.5)" d="M280.4 905.4 280.66 904.16 280.9 902.93 281.29 901.7 280.88 900.42 281.3 899.2 281.76 897.97 282.32 896.75 282.64 895.5 282.5 894.2 282.64 892.89 283.61 891.73 284.05 890.47 284.4 889.2 285.04 887.93 286.15 886.77 286.3 885.4 286.93 884.16 287.44 882.9 288.1 881.67 289 880.49 289.1 879.19 289.16 877.88 289.8 876.67 289.99 875.17 290.6 873.73 291.55 875.2 292.5 876.67 292.52 875.35 293.5 874.2 294.36 872.76 295 871.27 295.71 872.8 296.9 874.2 297.08 875.31 296.72 876.44 296.73 877.55 297.24 878.65 297.2 879.76 297.5 880.87 298.06 881.91 298.27 882.97 297.4 884.1 298.31 885.12 298.53 886.18 297.92 887.29 298.5 888.33 298.33 889.46 299.11 890.54 299 891.66 299.18 892.77 299.25 893.88 299.1 895 300.3 895.4 299.93 894.19 300.66 893.05 300.59 891.85 300.85 890.68 300.79 889.49 301.3 888.33 300.93 887.24 300.91 886.16 301.89 885.1 301.81 884.02 301.67 882.93 301.25 881.84 301.33 880.76 301.36 879.68 301.64 878.61 301.9 877.53 301.5 876.38 301.82 875.25 301.82 874.1 301.89 872.96 302.48 871.84 302.34 870.7 302.44 869.56 302.4 868.41 302.68 867.28 303.03 866.15 302.8 865 302.65 863.88 302.44 862.77 302.95 861.67 302.9 860.55 303.4 859.45 302.72 858.32 303.62 857.23 302.73 856.1 303.37 855 303.32 853.89 303.24 852.77 303.5 851.67 304.01 850.55 303.89 849.41 303.38 848.25 303.82 847.13 304.03 846 303.48 844.85 303.62 843.72 304.27 842.6 304.49 841.47 304.28 840.33 304.4 839.2 304.36 838.07 304.49 836.93 304.27 835.8 304.99 834.67 305.12 833.54 304.64 832.4 304.17 831.26 304.63 830.13 305.12 829.01 304.64 827.86 304.44 826.73 304.57 825.59 305.19 824.47 305 823.33 305.26 822.2 305.02 821.04 305.51 819.91 305.79 818.78 306.14 817.65 306.11 816.5 305.8 815.34 306 814.2 306.45 813.06 306.69 811.92 306.74 810.77 306.72 809.61 306.66 808.45 306.69 807.3 307.17 806.17 306.9 805 307.17 803.9 307.41 802.79 307 801.65 306.99 800.53 307.31 799.43 307.79 798.34 307.91 797.23 307.64 796.09 308.1 795 309.4 793.33 309.24 792.15 310.25 791.05 309.47 789.82 310.59 788.73 310.3 787.53 311 785.87 311.21 787.29 311.92 788.63 312.5 790 312.07 791.14 312.52 792.23 313.37 793.31 312.46 794.47 313.15 795.55 312.71 796.69 312.93 797.79 313.79 798.87 313.5 800 314.17 801.12 314.35 802.27 313.68 803.47 313.83 804.62 314.61 805.73 314.9 806.87 314.78 808.04 314.8 809.2 314.62 810.36 314.84 811.5 314.85 812.65 314.89 813.8 315.27 814.92 315.33 816.07 316.38 817.16 316 818.33 316.73 819.49 315.97 820.74 316.43 821.91 316.93 823.08 317.34 824.26 317.3 825.46 317.3 826.67 317.68 827.9 317.7 829.17 317.95 830.41 318.1 831.67 317.96 830.45 318.01 829.25 318.33 828.07 318.44 826.88 318.59 825.68 319.12 824.52 319.4 823.33 319.61 822.02 320.6 820.87 322.3 821.67 322.17 822.8 322.65 823.89 322.94 825 322.95 826.12 323.59 827.2 323.5 828.33 324.32 829.45 324.56 830.63 324.58 831.83 324.85 833.01 325 834.2 326.3 835.4 328.1 835 328.61 836.05 328.8 837.13 328.47 838.26 329.61 839.25 329.37 840.38 329.68 841.44 329.8 842.53 330.46 843.75 330.41 845.07 331.37 846.24 331.5 847.53 333.5 847.53 333.33 846.23 333.78 844.99 334.99 843.84 334.8 842.53 336 841.67 336.66 842.75 337.4 843.81 337.5 845 337.65 846.23 338.62 847.26 339.4 848.33 339.45 849.67 340.65 850.79 341 852.07 342.35 850.95 343.1 849.6 344.39 850.47 344.8 851.67 345.39 852.89 345.08 854.2 345.68 855.42 346 856.67 347.3 857.53 348.03 856.54 348.03 855.41 348.97 854.46 349 853.33 348.77 852.22 349.59 851.21 349.35 850.1 349.59 849.04 350.56 848.04 350.3 846.93 350.6 845.87 351.24 844.8 350.97 843.62 351.5 842.53 354 842.07 354.65 840.86 355.24 839.65 355.34 838.37 355.31 837.07 356 835.87 356.56 834.85 357.23 833.84 357.45 832.77 357.5 831.67 357.74 830.5 357.99 829.33 357.96 828.14 358.99 827.06 359 825.87 359.14 824.74 359.7 823.7 360.01 822.61 361 821.67 362.5 820.4 362.8 818.9 363.8 817.53 364.18 816.4 364.78 815.31 365.3 814.2 366.43 815.34 366.9 816.67 367.92 817.67 368.8 818.73 370.6 818.33 371.71 817.18 372.3 815.87 372.02 814.67 372.22 813.5 372.8 812.35 373.38 811.2 373.1 810 373.87 808.95 373.81 807.79 373.61 806.61 374.77 805.61 375.22 804.51 375 803.33 375.68 802.27 375.53 801.11 375.62 799.99 376.09 798.9 376.57 797.81 376.5 796.67 377.27 795.65 376.95 794.53 377.19 793.47 377.21 792.38 377.69 791.34 377.92 790.27 378.1 789.2 378.74 788.06 379.8 787.07 381.3 787.93 381.67 789.18 381.49 790.49 382.55 791.66 382.85 792.92 382.9 794.2 383.17 792.91 384.23 791.76 384.12 790.41 384.8 789.2 385.49 788.07 385.94 786.91 386.23 785.73 386.49 784.55 386.5 783.33 386.85 782.14 387.78 781.1 388.5 780 389.07 778.92 388.66 777.75 389.26 776.68 389.77 775.59 390.06 774.49 389.8 773.33 390.35 772.18 390.81 771 391.9 770 391.8 768.68 392.5 767.47 393.15 766.26 393.5 765 393.77 763.58 394.85 762.3 395 760.87 395.17 762.26 395.54 763.64 396 765 397.09 763.61 397.5 762.07 399 761.27 398.95 760.18 399.45 759.12 399.27 758.03 399.34 756.95 399.29 755.86 400.17 754.83 400 753.73 401.5 754.6 401.58 755.72 402.99 756.56 402.77 757.75 403.5 758.73 403.98 757.54 405.3 756.67 405.38 755.55 405.43 754.43 406.24 753.36 405.89 752.22 406.15 751.11 406.3 750 406.31 748.88 406.36 747.76 406.52 746.65 406.49 745.52 406.6 744.41 407.3 743.33 407.65 742.09 408.16 740.86 408.39 739.6 408.5 738.33 408.56 737.05 409.68 735.89 409.02 734.53 409.8 733.33 409.82 732.17 409.82 731.01 409.75 729.84 410.71 728.71 410.3 727.53 411.51 726.34 412.3 725 412.3 723.57 412.75 722.2 413.5 720.87 415 719.6 415.32 721.13 416.3 722.53 417.5 723.33 417.77 724.4 417.97 725.47 418.11 726.55 418.21 727.63 418.05 728.72 418.48 729.78 418.4 730.87 418.44 731.94 419.16 732.97 418.79 734.07 418.88 735.14 419.31 736.19 418.85 737.29 419.4 738.33 419.55 739.88 420.6 741.27 421.71 739.85 422.5 738.33 424 739.6 424.34 738.34 424.51 737.06 425.3 735.87 426.03 734.63 426.5 733.33 426.37 732.07 426.33 730.81 426.84 729.57 426.57 728.31 427 727.07 427.01 728.17 427.04 729.27 428.01 730.31 427.49 731.45 427.8 732.53 429.4 730.87 429.47 729.76 430.03 728.74 430.84 727.76 431 726.67 430.79 728.11 431.8 729.45 431.9 730.87 432.24 731.97 433.1 732.93 434.4 731.27 435.09 732.34 435.01 733.59 436 734.6 436.41 733.06 437.5 731.67 439 732.53 439.71 731.46 439.63 730.22 440.6 729.2 440.88 728.09 441.3 727 441.7 725.91 441.76 724.78 441.74 723.65 441.9 722.53 442.4 721.24 443.1 720 444 718.33 444.06 719.59 444.24 720.84 444.48 722.09 444.8 723.33 445.34 724.44 446.3 725.4 446.49 726.6 446.73 727.78 447.52 728.87 448.1 730 447.79 731.21 448.04 732.39 448.53 733.57 448.17 734.77 448.75 735.95 448.34 737.16 448.8 738.33 448.53 739.43 448.65 740.51 448.78 741.59 449.16 742.65 449.52 743.71 449.89 744.78 449.8 745.87 449.82 746.94 449.71 748.03 450.47 749.06 450.8 750.11 450.38 751.22 450.38 752.3 451 753.33 451.45 754.51 451.65 755.7 451.81 756.88 451.46 758.1 451.28 759.3 452.05 760.46 451.9 761.67 451.67 762.77 452.58 763.82 452.49 764.91 452.21 766.02 452.07 767.11 452.45 768.19 452.32 769.28 452.77 770.35 452.84 771.44 452.8 772.53 452.9 773.61 453.59 774.67 453.49 775.76 453.44 776.85 453.23 777.94 453.85 779 453.92 780.08 453.22 781.2 453.71 782.26 454 783.33 454.2 784.42 453.89 785.52 454.06 786.6 454.05 787.69 454.44 788.77 454.47 789.86 455.14 790.92 454.88 792.02 455.02 793.11 455 794.2 455.41 795.3 455.44 796.41 455.01 797.56 455.88 798.63 456.15 799.73 456.05 800.86 456.37 801.96 456.68 803.06 456.3 804.2 456.06 805.31 456.68 806.34 457.46 807.35 457.12 808.47 457.73 809.5 457.6 810.6 457.8 811.67 457.46 812.84 457.58 814 458.36 815.11 458.09 816.28 458.56 817.42 459.16 818.54 458.96 819.71 459 820.87 459 822.02 459.37 823.13 459.76 824.23 459.81 825.38 460.8 826.41 461 827.53 460.94 828.68 460.97 829.82 461.02 830.96 461.23 832.09 461.8 833.2 461.75 834.52 462.67 835.71 462.98 836.98 463.2 838.27 463.98 839.77 465 841.2 465.65 842.25 465.68 843.36 465.84 844.45 466.25 845.53 466.51 846.61 466.4 847.73 468.6 849.2 469.82 850.34 471.3 851.33 471.79 852.4 472.35 853.46 471.83 854.64 471.95 855.74 473.02 856.74 473 857.87 473.55 858.91 474.88 859.69 475.2 860.8 476.29 862.2 476.8 863.73 477.39 864.83 477.1 866.01 477.42 867.14 477.36 868.3 477.77 869.42 477.89 870.56 478.4 871.67 478.47 873.02 479.26 874.25 480.12 875.47 480.3 876.8 480.87 877.91 480.31 879.12 480.55 880.26 480.94 881.38 480.81 882.55 481.16 883.68 481.7 884.8 482.27 885.98 482.97 887.14 483.1 888.4 484.6 889.09 486 889.87 485.98 891.03 486.44 892.11 487.8 893.03 487.7 894.2 488.6 895.35 488.49 896.64 488.8 897.87 489.2 899.07 490.4 900 490.53 901.3 491.11 902.51 492 903.67 494.2 902.93 494.42 901.6 495.23 900.42 496.2 899.27 498 898.93 500.2 898.2 500.55 899.59 501.53 900.85 502.1 902.2 504 902.53 504.53 903.6 504.18 904.79 505.54 905.74 505.37 906.9 505.7 908 505.76 909.29 506.42 910.48 507.1 911.67 506.9 912.86 507.79 913.97 507.69 915.15 507.46 916.35 508.2 917.47 509.32 918.42 509.7 919.6 511.1 920.33 511.97 921.41 512.7 922.53 514.9 921.8 514.81 923.11 516.13 924.19 516.2 925.47 517.11 926.65 518.5 927.6 519.39 926.46 519.52 925.14 520.4 924 521.45 922.88 521.76 921.61 522 920.33 522.16 918.99 523.1 917.8 524.86 916.97 525.8 915.67 525.93 916.84 526.89 917.84 527.4 918.93 528.59 919.73 528.59 920.94 529.6 921.8 530.08 923.04 530.48 924.3 531.3 925.47 532.15 926.48 532.12 927.63 532.17 928.77 532.9 929.8 532.93 930.99 533.81 932.08 533.93 933.26 534.07 934.43 534.3 935.6 534.87 936.86 534.83 938.23 535.42 939.48 536.4 940.67 538.1 940.2 539.9 940.47 540.69 941.6 542.05 942.52 542.6 943.73 543.03 945.04 544.17 946.14 545 947.33 546.07 946.35 546.75 945.27 547 944.07 548.39 942.76 548.9 941.2 549.87 942.2 550.61 943.26 550.8 944.47 551.26 945.64 552.3 946.63 553 947.73 553.41 949.07 554.4 950.27 555.55 949.14 556.8 948.07 557.32 949.39 557.41 950.77 558.1 952.07 559.47 953.28 560.6 954.6 562.25 954.96 563.9 955.33 565.06 956.38 565.87 957.58 567.1 958.6 569.9 958.27 570.16 956.93 571.26 955.81 572 954.6 573.34 955.57 574.8 956.47 576.1 957.62 577.7 958.6 578.58 960.03 580.2 961.13 582.4 960.8 583 962 582.84 963.33 583.8 964.47 586.2 963.33 587.49 962.14 588.4 960.8 588.83 959.51 589.5 958.27 591.04 957.57 592.5 956.8 594.07 957.24 595.5 957.87 595.61 959.06 596.58 960.16 595.91 961.43 596.77 962.54 596.9 963.73 599.5 964.8 600.68 966.02 601.27 967.37 601.5 968.8 602.46 969.85 603.1 971 604.5 972.4 604.9 970.92 605.8 969.53 606.26 970.9 607.4 972.07 609.1 973.87 611.25 973.78 613.4 973.87 614.9 972.75 615.6 971.33 616.55 972.24 617.22 973.24 617.8 974.27 619.51 973.56 620.5 972.4 622.02 971.79 623 970.8 623.36 972.1 624.6 973.13 625.32 974.56 625.2 976.07 626.41 975.23 628.1 974.93 629.03 975.95 630.3 976.8 630.84 978.11 631.46 979.41 631.4 980.8 633.07 981.49 634.1 982.6 635.61 981.41 637.4 980.4 638.4 981.82 639 983.33 639.33 984.57 639.48 985.83 640.5 986.93 642.17 987.47 643.4 988.4 643.84 989.47 644.77 990.39 645.6 991.33 647.02 992.11 648.8 992.4 650.5 993.87 651.93 992.76 652.4 991.33 652.79 992.56 654.36 993.39 654.8 994.6 656.02 995.63 657.6 996.4 659.79 996.4 661.9 996 663.11 997.05 664.1 998.2 665.29 999.02 665.31 1000.24 666.3 1001.13 667.43 1002.45 668.8 1003.67 670.02 1005.05 671.7 1006.2 673.4 1006.18 675 1005.8 675.78 1004.53 675.58 1003.09 676.6 1001.87 678.04 1002.69 679.9 1002.93 682.6 1002.2 685.3 1003.27 686.76 1002.36 687.23 1001.03 688.4 1000 689.61 1001.24 691.3 1002.2 693.5 1002.53 693.85 1004.11 695.1 1005.47 696.55 1006.16 697.9 1006.93 698.77 1007.97 699.2 1009.14 700 1010.2 701.7 1011.67 703.6 1011.87 705.5 1011.67 706.12 1012.74 706.36 1013.89 707.1 1014.93 709.1 1016 710.45 1014.88 710.9 1013.47 711.4 1012.21 712.59 1011.12 712.8 1009.8 715.3 1010.93 716.46 1012.1 716.9 1013.47 718.38 1012.24 719.7 1010.93 721.24 1011.34 722.9 1011.27 724.38 1012.49 725.7 1013.8 727.41 1014.23 728.9 1014.93 729.58 1015.97 729.92 1017.07 730.34 1018.15 730.75 1019.24 731.1 1020.33 732.45 1021.54 733.3 1022.93 734.72 1022.25 736 1021.47 736.4 1020.38 737.11 1019.4 737.99 1018.46 738.7 1017.47 740.4 1016.73 743.1 1017.07 744.61 1017.72 746.4 1017.8 747.33 1018.82 748.12 1019.89 748.5 1021.07 749.71 1021.96 751.3 1022.53 752.9 1022.53 753.54 1021.47 753.6 1020.28 755.04 1019.39 755.1 1018.2 755.86 1016.83 757.2 1015.67 760 1014.93 761.55 1015.39 763.2 1015.67 764.69 1016.79 765.7 1018.13 766.18 1019.31 767.3 1020.27 769.5 1021.73 771.4 1020.53 772.42 1021.42 773.2 1022.4 773.36 1023.73 773.48 1025.05 774.1 1026.33 776.8 1026.33 778.6 1027.53 779.69 1026.68 780.4 1025.67 780.9 1024.13 781.8 1022.67 784.1 1023.87 786.3 1022.4 786.91 1021.39 787.9 1020.53 789.5 1022.07 789.88 1023.19 790.41 1024.29 790.9 1025.4 792.2 1025.07 793.1 1023.27 793.84 1024.7 795 1026 796.09 1025.14 797.7 1024.8 799.66 1024.93 801.3 1025.67 802.97 1025.3 804.63 1025.89 806.3 1025.67 808.1 1026.6 809.9 1025.4 811.8 1026.6 814 1025.67 815.43 1026.45 816.3 1027.53 818.1 1028.73 820.8 1028.4 822.4 1027.2 823.6 1029 823.52 1030.38 824 1031.73 825.8 1032.07 826.2 1030.53 826.7 1029 829 1027.8 830.35 1028.69 832.2 1029 833.5 1027.8 835.01 1028.65 836.7 1029.33 837.76 1027.91 838.1 1026.33 839 1025.07 840.12 1026.34 840.4 1027.8 841.7 1026.55 842.2 1025.07 842.62 1023.71 843.3 1022.4 844.57 1023.61 844.9 1025.07 844.81 1026.33 845.79 1027.48 845.8 1028.73 847.6 1029 848.22 1030.07 849.61 1030.89 849.9 1032.07 851.11 1033.41 852.2 1034.8 852.81 1033.43 853.5 1032.07 854.9 1030.53 856.7 1031.73 858.02 1031.1 859.4 1030.53 861.1 1030.46 862.6 1029.93 863.94 1030.91 864.9 1032.07 867.6 1032.67 868.89 1031.75 869.4 1030.53 871.2 1032.07 872.6 1030.53 873.96 1031.29 874.33 1032.57 875.8 1033.27 876.26 1032.22 877.33 1031.35 878.26 1030.45 878.5 1029.33 880.37 1028.99 882.1 1028.4 884.8 1029.33 886.22 1028.75 887.1 1027.8 888.82 1028.85 889.8 1030.27 890.48 1031.29 892.31 1031.64 893 1032.67 895.3 1031.47 896.08 1030.49 896.83 1029.51 897.1 1028.4 898.08 1029.44 899.31 1030.33 900.7 1031.13 903 1029.93 904.26 1031.05 905.7 1032.07 907.29 1031.21 908 1029.93 910.3 1030.87 912.06 1030.5 913.9 1030.53 914.68 1031.78 916.2 1032.67 916.49 1033.75 917.71 1034.58 918 1035.67 919.3 1036.87 921.2 1036.6 921.59 1035.28 922 1033.97 922.5 1032.67 924.3 1031.47 924.37 1029.88 925.2 1028.4 926.45 1027.63 927.39 1026.72 928 1025.67 929.55 1024.9 930.7 1023.87 932.05 1024.82 932.28 1026.17 933.4 1027.2 934.49 1028.06 936.1 1028.4 937.35 1029.29 938.9 1029.93 939.91 1031.06 941.6 1031.73 944.1 1032.67 945.7 1031.4 948.2 1030.87 949 1032.47 951.7 1033.07 952.8 1034.47 955.8 1034.47 957.2 1033.6 958.5 1034.47 959.66 1033.61 959.9 1032.47 961.7 1032.35 963.4 1031.93 965.9 1033.2 968.3 1032.33 970.5 1030.87 972.4 1029.8 973.45 1030.82 974.9 1031.6 977 1031.93 977.9 1033.8 979.2 1035.4 980.8 1034.47 982.5 1035.93 984.7 1037.07 986 1036.33 987.4 1034.47 988.53 1035.39 989.3 1036.47 990.7 1035.93 991.49 1034.82 991.7 1033.6 993.9 1034.33 995.6 1033.6 998.6 1033.6 1000.5 1031.93 1001.8 1033.2 1003.2 1031.93 1004.5 1033.6 1005.1 1035.2 1006.7 1035.07 1008.9 1033.93 1011.4 1034.47 1013.5 1035.93 1015.4 1036.87 1017.3 1037.6 1018.7 1038.13" stroke="#000" stroke-width="1.5" fill="none" stroke-linejoin="round"/>
</g>
<g id="panel-d">
<g stroke="#000" fill="none">
<path d="M1283.7 900H1291" stroke-width="4" stroke-linecap="round"/>
<path d="M1289 900H2226" stroke-width="4"/>
<path d="M1291 900V1621.5" stroke-width="4"/>
<path d="M1289 1621.5H2226" stroke-width="5"/>
<path d="M2223.5 900V1621.5" stroke-width="5"/>
<path d="M1277.7 1621.5H1291" stroke-width="5" stroke-linecap="round"/>
<path d="M2223.5 1619.5V1635.5" stroke-width="5" stroke-linecap="round"/>
</g>
<path d="M1283.7 1573H1291M1277.7 1525H1291M1283.7 1477H1291M1277.7 1429H1291M1283.7 1381H1291M1277.7 1333H1291M1283.7 1285H1291M1277.7 1237H1291M1283.7 1189H1291M1277.7 1140H1291M1283.7 1092H1291M1277.7 1044H1291M1283.7 996H1291M1277.7 948H1291M1291 1621.5V1628.5M1376 1621.5V1635.5M1461 1621.5V1628.5M1545 1621.5V1635.5M1630 1621.5V1628.5M1715 1621.5V1635.5M1800 1621.5V1628.5M1884 1621.5V1635.5M1969 1621.5V1628.5M2054 1621.5V1635.5M2139 1621.5V1628.5" stroke="#000" stroke-width="4" fill="none" stroke-linecap="round"/>
<text transform="translate(1244.07,1631.5) scale(1,1.03)" font-size="43" text-anchor="start">0</text>
<text transform="translate(1220.15,1535.29) scale(1,1.03)" font-size="43" text-anchor="start">10</text>
<text transform="translate(1220.15,1439.07) scale(1,1.03)" font-size="43" text-anchor="start">20</text>
<text transform="translate(1220.15,1342.86) scale(1,1.03)" font-size="43" text-anchor="start">30</text>
<text transform="translate(1220.15,1246.64) scale(1,1.03)" font-size="43" text-anchor="start">40</text>
<text transform="translate(1220.15,1150.43) scale(1,1.03)" font-size="43" text-anchor="start">50</text>
<text transform="translate(1220.15,1054.21) scale(1,1.03)" font-size="43" text-anchor="start">60</text>
<text transform="translate(1220.15,958) scale(1,1.03)" font-size="43" text-anchor="start">70</text>
<text transform="translate(1363.82,1676.1) scale(1,1.03)" font-size="43" text-anchor="start">0</text>
<text transform="translate(1521.16,1676.1) scale(1,1.03)" font-size="43" text-anchor="start">20</text>
<text transform="translate(1691.3,1676.1) scale(1,1.03)" font-size="43" text-anchor="start">40</text>
<text transform="translate(1860.24,1676.1) scale(1,1.03)" font-size="43" text-anchor="start">60</text>
<text transform="translate(2029.95,1676.1) scale(1,1.03)" font-size="43" text-anchor="start">80</text>
<text transform="translate(2186.04,1676.1) scale(1,1.03)" font-size="43" text-anchor="start">100</text>
<text transform="translate(1195,1417.12) rotate(-90) scale(1,1.015)" font-size="55.5">Intensity (a.u.)</text>
<text transform="translate(1788.21,1724) scale(1,1)" font-size="55.5" text-anchor="start">2</text>
<text transform="translate(1819.2,1724.5) scale(1.09,1)" font-size="51" style="font-family:'Liberation Serif',serif">θ</text>
<text transform="translate(1302.66,966.2) scale(1,1)" font-size="55.5" text-anchor="start">(d)</text>
<text transform="translate(1872.23,997) scale(1.0045,1.03)" font-size="55.5" text-anchor="start">Black pepper</text>
<text transform="translate(1890.9,1070) scale(0.9957,1.03)" font-size="55.5" text-anchor="start">ICr=42.29%</text>
<path transform="scale(1,1.5)" d="M1400.5 936.47 1402.08 936.2 1403.7 936.07 1404.64 935.19 1405.83 934.44 1406.4 933.4 1406.58 932.2 1407.15 931.07 1407.46 929.9 1408.08 928.78 1409 927.73 1408.96 926.55 1409.59 925.5 1410.44 924.49 1410.9 923.4 1411.9 922.45 1412.06 921.33 1412.21 920.21 1412.72 919.17 1413.3 918.13 1413.77 917.03 1413.63 915.87 1413.61 914.71 1414.7 913.68 1414.71 912.53 1414.42 911.35 1415.1 910.27 1414.84 909.14 1415.08 908.06 1416.24 907.06 1415.52 905.9 1416.3 904.86 1416.89 903.81 1416.08 902.64 1416.8 901.6 1416.88 900.47 1417.18 899.35 1417.86 898.26 1417.26 897.08 1417.54 895.96 1417.72 894.84 1418.2 893.73 1417.83 892.58 1418.65 891.5 1418.93 890.38 1418.64 889.23 1418.34 888.09 1419.21 887 1419.1 885.87 1419.48 884.79 1419.52 883.69 1419.29 882.58 1419.96 881.52 1419.87 880.42 1419.95 879.32 1420.02 878.23 1420.1 877.13 1419.89 875.98 1420.22 874.84 1420.68 873.71 1420.64 872.57 1420.35 871.41 1420.96 870.28 1421.07 869.14 1420.28 867.97 1420.48 866.83 1420.64 865.69 1420.5 864.54 1421.39 863.42 1421.2 862.27 1421.46 861.21 1421.45 860.14 1422.04 859.09 1421.44 857.99 1421.37 856.92 1421.37 855.85 1421.72 854.79 1422.37 853.75 1422.1 852.67 1422.32 851.6 1421.82 850.51 1422.33 849.46 1422 848.38 1422.74 847.34 1422.29 846.25 1422.45 845.19 1423.06 844.14 1423 843.07 1423.47 841.95 1423.33 840.81 1423.07 839.66 1423.56 838.54 1423.25 837.39 1423.06 836.25 1423.45 835.12 1424.01 834.01 1424.04 832.87 1424 831.73 1423.75 830.63 1424.56 829.57 1424.64 828.48 1424.12 827.37 1424.96 826.31 1424.29 825.19 1424.16 824.09 1424.75 823.02 1425.23 821.95 1425.03 820.85 1425.06 819.76 1425.1 818.67 1425.17 817.55 1425.03 816.43 1425.13 815.31 1425.32 814.2 1425.56 813.09 1426.08 811.99 1425.2 810.85 1425.48 809.74 1426.32 808.65 1426.09 807.52 1426 806.4 1425.6 805.3 1426.07 804.22 1426.37 803.14 1426.72 802.06 1425.88 800.94 1426.84 799.88 1426.76 798.79 1426.29 797.68 1426.64 796.6 1427.02 795.52 1426.45 794.41 1426.8 793.33 1427.08 792.24 1426.98 791.13 1426.51 790.02 1426.78 788.93 1427 787.83 1426.75 786.72 1427.7 785.64 1426.99 784.53 1427.03 783.43 1427.49 782.34 1427.47 781.23 1427.5 780.13 1427.38 778.99 1427.47 777.86 1427.73 776.73 1428.26 775.61 1427.43 774.45 1428.42 773.35 1428.53 772.21 1428.33 771.07 1428.54 769.94 1428.16 768.8 1428.87 767.68 1428.71 766.54 1428.73 765.41 1428.6 764.27 1428.61 763.19 1428.43 762.11 1429.02 761.06 1429.14 759.99 1428.4 758.89 1428.81 757.83 1429.12 756.77 1428.84 755.68 1428.82 754.61 1428.95 753.54 1428.83 752.46 1429.01 751.39 1429.5 750.33 1429.44 749.22 1429.63 748.11 1429.84 747 1429.54 745.88 1429.4 744.76 1430.34 743.67 1430.08 742.55 1430.2 741.44 1430.27 740.33 1429.93 739.2 1430.29 738.1 1430.05 736.98 1430.48 735.88 1430.72 734.77 1429.91 733.63 1430.5 732.53 1430.88 731.45 1430.18 730.34 1430.12 729.24 1430.23 728.15 1430.82 727.07 1431.19 725.98 1431.32 724.89 1430.52 723.78 1430.87 722.69 1431.49 721.61 1431.48 720.52 1431.46 719.42 1430.87 718.31 1430.95 717.22 1430.86 716.13 1431.04 715.03 1431.25 713.94 1431.73 712.86 1431.63 711.76 1431.5 710.67 1431.2 709.55 1431.26 708.43 1431.61 707.33 1432.15 706.23 1431.75 705.1 1432.16 704 1432.1 702.88 1432.37 701.78 1432 700.65 1431.93 699.54 1432.07 698.43 1432.51 697.32 1431.99 696.2 1431.95 695.08 1432.71 693.99 1432.4 692.87 1432.45 691.75 1432.69 690.64 1432.25 689.51 1432.17 688.39 1432.44 687.28 1432.73 686.16 1432.37 685.04 1432.7 683.93 1433.51 682.83 1433.02 681.7 1432.61 680.57 1433.56 679.48 1433.08 678.34 1433 677.22 1433.58 676.12 1433.5 675 1433.79 673.87 1433.52 672.73 1434.05 671.61 1434.34 670.48 1433.86 669.33 1434.14 668.2 1433.71 667.04 1434.46 665.94 1434.24 664.79 1434.74 663.67 1434.96 662.55 1434.61 661.39 1435.08 660.27 1435 659.13 1435.63 658.07 1434.92 656.93 1435.75 655.87 1435.54 654.76 1436.19 653.69 1435.37 652.55 1435.85 651.47 1435.75 650.37 1436 649.28 1436.4 648.2 1437.07 647.17 1436.93 646.05 1437 644.95 1437.9 643.94 1437.16 642.76 1437.9 641.73 1438.61 642.77 1437.97 643.91 1438.39 644.97 1438.27 646.07 1438.82 647.12 1439 648.2 1438.63 649.32 1439.42 650.38 1439.66 651.47 1439.06 652.59 1439.56 653.67 1440.24 654.73 1440.38 655.83 1440.49 656.92 1439.83 658.05 1440.2 659.13 1440.15 660.27 1440.84 661.38 1440.2 662.55 1440.33 663.68 1440.59 664.81 1440.76 665.94 1441.02 667.06 1440.85 668.21 1441.29 669.33 1440.8 670.49 1441.28 671.6 1441.3 672.74 1441.13 673.89 1441.7 675 1441.24 676.13 1441.8 677.23 1442.33 678.34 1441.95 679.47 1441.58 680.6 1442.43 681.69 1442.45 682.81 1442.5 683.93 1442.61 685.04 1442.04 686.18 1442.42 687.28 1442.98 688.39 1442.58 689.52 1442.45 690.64 1443.25 691.74 1442.8 692.87 1443.18 693.97 1443.43 695.08 1442.73 696.21 1443.11 697.31 1443.58 698.42 1443.38 699.54 1443.49 700.65 1443.12 701.77 1443.33 702.88 1443.39 703.99 1443.54 705.1 1443.91 706.21 1443.64 707.33 1443.35 708.44 1443.51 709.55 1443.6 710.67 1443.6 711.79 1444.17 712.9 1444.4 714.02 1443.71 715.18 1443.87 716.3 1444.03 717.42 1443.79 718.56 1444.61 719.65 1444.25 720.8 1444.83 721.9 1444.59 723.04 1444.35 724.18 1444.95 725.28 1444.87 726.41 1445.1 727.53 1444.63 728.67 1445.24 729.78 1445.59 730.9 1444.87 732.04 1445.24 733.16 1445.69 734.27 1445.81 735.4 1446.16 736.52 1446.15 737.64 1445.24 738.79 1445.77 739.9 1445.59 741.03 1446.25 742.14 1445.66 743.29 1446.1 744.4 1445.93 745.47 1445.81 746.54 1446.3 747.6 1445.89 748.68 1446.33 749.74 1446.86 750.79 1446.08 751.88 1446.81 752.93 1446.19 754.01 1446.66 755.07 1446.89 756.13 1446.82 757.2 1446.9 758.27 1447.12 759.33 1447.52 760.4 1447.63 761.47 1447.66 762.54 1446.84 763.64 1447.53 764.69 1447.96 765.75 1447.62 766.84 1447.44 767.92 1447.52 768.99 1447.29 770.07 1447.99 771.12 1447.9 772.2 1447.47 773.28 1448.58 774.32 1448.48 775.39 1448.19 776.47 1448.09 777.54 1448.41 778.6 1448.07 779.68 1448.4 780.73 1449.07 781.78 1448.71 782.86 1448.51 783.94 1449 784.99 1448.8 786.07 1449.24 787.23 1448.84 788.43 1449.14 789.6 1448.66 790.8 1448.8 791.97 1449.61 793.13 1450.01 794.29 1449.95 795.48 1449.7 796.67 1449.82 797.85 1449.88 799.04 1449.92 800.23 1450.36 801.41 1450.17 802.61 1450 803.8 1450.15 804.96 1449.83 806.13 1450.59 807.28 1450.08 808.45 1450.41 809.61 1450.03 810.78 1450.19 811.94 1450.78 813.1 1450.5 814.27 1450.4 815.37 1450.89 816.44 1450.51 817.56 1451.53 818.61 1451.33 819.71 1451.23 820.82 1451.6 821.9 1451.5 823 1451.78 824.12 1451.73 825.25 1452.26 826.35 1451.73 827.52 1452.52 828.6 1452.23 829.76 1452.6 830.87 1452.36 832.04 1453.55 833.07 1452.96 834.28 1453.98 835.33 1453.94 836.48 1454.56 837.57 1454.4 838.73 1454.15 839.87 1455.03 840.9 1455.02 842.01 1454.74 843.14 1455.85 844.16 1456.14 845.24 1455.68 846.39 1456.1 847.47 1456.88 848.58 1457.07 849.76 1457.22 850.94 1457.76 852.08 1457.69 853.28 1457.8 854.47 1458.6 855.62 1457.97 856.95 1458.75 858.11 1459.59 859.26 1459.4 860.53 1459.53 861.63 1460.48 862.59 1460.19 863.76 1461.5 864.66 1461.4 865.8 1463.1 867.53 1463.84 868.79 1463.89 870.12 1463.72 871.47 1464.4 872.73 1465.9 874.53 1467.33 873.34 1467.9 871.87 1468.73 870.85 1468.23 869.66 1468.74 868.6 1469.2 867.53 1469.83 866.52 1470.03 865.45 1470.41 864.41 1469.72 863.26 1469.91 862.2 1470.55 861.18 1470.9 860.13 1471.85 859.2 1472.29 858.14 1472.7 857.07 1474.5 856.2 1475.8 857.93 1475.97 856.79 1476.52 855.69 1476.52 854.53 1477.2 853.44 1477.1 852.27 1477.78 853.77 1478 855.33 1479.02 854.23 1479.18 852.88 1480.3 851.8 1480.76 850.66 1480.83 849.46 1481.4 848.33 1481.35 847.2 1481.4 846.07 1481.27 844.94 1481.47 843.82 1482.23 842.72 1482.35 841.6 1482.3 840.47 1482.81 839.26 1482.91 838 1483.42 836.8 1483.98 835.6 1484 834.33 1484.92 833.33 1484.68 832.15 1485.46 831.13 1485.6 830 1486.21 828.91 1486.52 827.79 1486.6 826.65 1486.39 825.47 1487.3 824.42 1487.29 823.26 1487.5 822.13 1488.22 820.95 1488.68 819.72 1488.57 818.4 1488.88 817.15 1489.8 816 1490.3 814.96 1490.36 813.88 1489.84 812.76 1490.06 811.69 1490.66 810.66 1491.1 809.61 1490.71 808.5 1491.52 807.48 1491.5 806.4 1491.58 805.26 1492.16 804.17 1492 803.01 1492.21 801.88 1492.37 800.75 1493 799.67 1493.35 798.58 1493.42 797.48 1492.96 796.35 1493.15 795.26 1494.08 794.21 1493.59 793.08 1494 792 1494.65 790.96 1494.88 789.88 1494.88 788.79 1494.33 787.66 1494.48 786.57 1495.45 785.55 1495.18 784.44 1494.94 783.33 1495.2 782.26 1495.58 781.19 1496 780.13 1496.01 778.9 1496.06 777.68 1497.08 776.56 1496.64 775.28 1497.4 774.13 1497.35 772.96 1497.98 771.84 1498.22 770.69 1498.45 769.53 1498.03 768.34 1498.5 767.2 1498.52 765.92 1499.38 764.75 1499.95 763.54 1500 762.27 1500.5 761.1 1500.74 759.92 1500.63 758.7 1501.2 757.54 1501.2 756.33 1502.3 754.33 1502.42 755.65 1503.4 756.8 1504.25 755.86 1504.52 754.73 1505.6 753.87 1506.07 752.82 1505.32 751.71 1505.41 750.64 1505.84 749.59 1506.03 748.53 1506.8 747.49 1506.4 746.4 1506.86 745.23 1506.73 744.02 1507.08 742.85 1507.11 741.65 1507.4 740.47 1508.6 739.47 1509.41 738.27 1509.48 736.98 1509.58 735.7 1510.1 734.47 1511.3 733.1 1511.6 731.53 1512.34 730.43 1512.3 729.21 1512.8 728.07 1514.5 727.53 1515.3 726.35 1514.62 725.01 1515.81 723.88 1515.7 722.6 1515.83 721.52 1516.05 720.44 1516.66 719.4 1516.35 718.28 1516.55 717.21 1516.8 716.13 1517.58 717.24 1517.61 718.48 1518.3 719.6 1519.45 718.72 1520.2 717.67 1521.26 716.73 1522 715.67 1522.39 714.41 1523.84 713.46 1524.2 712.2 1525.7 711.67 1527.6 710.2 1529.4 709.2 1529.59 708.08 1529.38 706.93 1529.68 705.82 1530.2 704.73 1531.7 705.73 1532.01 704.15 1533.1 702.73 1533.12 701.44 1533.9 700.27 1534.63 701.5 1535.4 702.73 1536.4 701.85 1536.9 700.8 1537.46 701.83 1538.4 702.73 1539.57 701.92 1539.8 700.8 1540.49 702.22 1542.1 703.27 1542.6 704.61 1542.99 705.97 1544 707.2 1544.62 706.16 1544.35 705.07 1544.87 704.03 1544.74 702.94 1545.11 701.89 1545 700.8 1547.3 700.8 1547.27 702.07 1547.46 703.31 1548.19 704.5 1548.5 705.73 1549.53 706.62 1550.15 707.61 1550.3 708.73 1550.65 710.09 1551.32 711.38 1552 712.67 1553.32 711.81 1554 710.67 1555.09 712.09 1555.5 713.67 1555.8 715.07 1556.25 716.44 1557.4 717.67 1557.68 716.46 1557.56 715.22 1558.5 714.09 1558.14 712.82 1558.9 711.67 1559.67 710.48 1560.13 709.25 1560.12 707.95 1560.7 706.73 1561.34 705.61 1560.97 704.41 1561.65 703.29 1561.28 702.09 1561.94 700.97 1561.9 699.8 1564.4 699.6 1565.2 700.83 1565.32 702.14 1565.64 703.44 1565.9 704.73 1565.64 705.87 1565.88 706.96 1566.83 708.02 1566.61 709.15 1566.36 710.28 1566.37 711.39 1567.11 712.46 1567.6 713.54 1567.4 714.67 1567.25 715.79 1568.07 716.85 1567.79 717.98 1568.27 719.07 1568.71 720.15 1568.92 721.25 1568.66 722.39 1569.23 723.46 1568.9 724.6 1568.88 725.69 1568.89 726.77 1569.03 727.85 1569.41 728.92 1569.4 730 1569.26 731.09 1569.99 732.14 1569.81 733.24 1570.41 734.29 1569.97 735.4 1570.3 736.47 1569.89 737.58 1570.76 738.63 1570.5 739.73 1571.22 740.78 1570.43 741.92 1571.6 742.95 1571.53 744.05 1571.49 745.14 1571.24 746.25 1571.62 747.32 1571.8 748.4 1572.38 749.45 1571.89 750.55 1572.64 751.59 1572.48 752.68 1571.92 753.79 1572.53 754.83 1573.22 755.88 1573.09 756.96 1573.17 758.04 1573.41 759.1 1572.89 760.21 1573.3 761.27 1573.7 762.34 1573.41 763.46 1573.69 764.55 1573.49 765.66 1574.23 766.72 1574.75 767.79 1574.2 768.93 1574.43 770.02 1575.16 771.08 1574.8 772.2 1574.94 773.29 1575.42 774.35 1574.62 775.49 1575.21 776.55 1575.06 777.65 1575.38 778.73 1575.52 779.81 1575.37 780.91 1576.4 781.95 1576 783.07 1576.25 784.16 1575.99 785.27 1576.44 786.36 1575.89 787.48 1576.64 788.56 1576.26 789.67 1576.55 790.77 1576.64 791.87 1576.35 792.98 1576.33 794.08 1576.39 795.18 1577 796.27 1577.31 797.43 1577.23 798.61 1577.79 799.76 1577.23 800.96 1577.54 802.12 1577.82 803.29 1577.91 804.46 1578.21 805.62 1578.2 806.8 1578.69 807.91 1578.58 809.05 1578.48 810.2 1579.32 811.28 1579.29 812.42 1579.41 813.55 1579.05 814.71 1579.52 815.82 1579.26 816.97 1579.95 818.07 1580 819.2 1580.58 820.32 1580.69 821.48 1581.18 822.6 1580.9 823.79 1581.16 824.94 1581.44 826.08 1581.39 827.25 1581.68 828.39 1582 829.53 1582.43 830.67 1582.27 831.87 1583.08 832.97 1582.77 834.18 1583.29 835.32 1583.13 836.51 1583.29 837.68 1583.9 838.8 1584.17 839.97 1584.83 841.09 1584.49 842.32 1585.44 843.42 1585.62 844.59 1585.72 845.77 1585.33 847 1585.9 848.13 1586.68 849.13 1586.99 850.26 1587.85 851.23 1588.5 852.27 1588.65 853.43 1589.53 854.53 1588.78 855.79 1589.57 856.89 1590.21 858.01 1589.93 859.22 1589.85 860.41 1590.5 861.53 1590.93 862.73 1591.14 863.96 1592.14 865.07 1592.46 866.28 1592.69 867.51 1592.9 868.73 1593.7 869.89 1593.37 871.17 1594.34 872.31 1594.14 873.57 1594.21 874.81 1594.7 876 1595.47 876.97 1594.97 878.16 1595.8 879.12 1596.3 880.13 1597.26 881.1 1598.46 881.93 1599.8 882.67 1600.13 883.8 1600.72 884.89 1600.89 886.05 1601.18 887.19 1601.95 888.25 1602.2 889.4 1603.25 890.31 1602.83 891.56 1604.05 892.43 1603.92 893.61 1604.9 894.53 1604.81 895.86 1606.26 896.94 1605.78 898.32 1606.82 899.47 1607.1 900.73 1607.01 901.95 1607.4 903.1 1608.25 904.21 1608.3 905.4 1608.8 906.75 1609.9 907.93 1610.47 909.12 1609.73 910.38 1610.2 911.57 1609.91 912.8 1610.61 913.99 1610.7 915.2 1610.65 916.32 1611.27 917.39 1611.46 918.5 1611.89 919.58 1611.31 920.74 1611.22 921.86 1611.9 922.93 1612.45 921.71 1612.71 920.43 1613.8 919.33 1613.86 918.2 1614.49 917.18 1615.3 916.2 1616.64 915.56 1617.6 914.67 1618.99 915.89 1620 917.27 1621.04 918.55 1622 919.87 1623.12 918.66 1623.5 917.27 1623.95 918.34 1625.23 919.18 1625.4 920.33 1625.23 921.62 1625.79 922.84 1626.67 924.01 1627.1 925.24 1626.9 926.53 1626.8 927.88 1627.8 929.11 1627.86 930.43 1628.2 931.73 1629.68 932.67 1630.8 933.8 1631.12 935.01 1632.02 936.08 1632.34 937.29 1633.1 938.4 1635.4 939.47 1635.62 940.83 1636.7 942 1637.67 940.78 1639.3 939.93 1640.79 940.66 1642.1 941.53 1642.82 942.88 1644 944.07 1645.5 943.6 1645.65 944.87 1646.12 946.07 1647 947.2 1648.49 948.42 1649.8 949.73 1652 948.2 1652.85 947.04 1653.41 945.82 1654 944.6 1655.7 944.33 1656.57 943.27 1656.35 942 1656.75 940.85 1657.7 939.8 1658.52 938.75 1659.9 938 1661.32 939.19 1662.4 940.53 1662.63 941.84 1663.23 943.09 1664.06 944.29 1664.3 945.6 1665.47 946.7 1665.8 948.02 1666.4 949.27 1666.66 950.5 1668.28 951.32 1668.6 952.53 1668.51 953.77 1669.41 954.89 1669.53 956.1 1670 957.27 1671.33 958.48 1672.4 959.8 1673.43 961.08 1675.2 961.93 1675.98 963 1677.3 963.8 1678.56 962.56 1679.5 961.2 1680.24 960 1681.05 958.82 1681.7 957.6 1682.86 958.78 1683.5 960.13 1685.3 960.87 1685.54 961.97 1685.62 963.1 1686.88 964.05 1686.8 965.2 1688.07 965.91 1689.3 966.67 1689.86 967.77 1690.37 968.87 1690.44 970.08 1691.5 971.07 1694 971.73 1694.47 970.59 1694.71 969.41 1694.7 968.19 1695.3 967.06 1695.9 965.93 1697.5 964.82 1698.4 963.4 1699.08 964.42 1699.76 965.44 1700.8 966.33 1700.66 967.55 1701.01 968.71 1701.34 969.87 1701.56 971.04 1702.4 972.13 1703.99 971.44 1704.9 970.33 1706.19 971.49 1707.8 972.47 1708.67 971.04 1709.5 969.6 1710.44 968.14 1712.2 967.07 1715.1 966.33 1715.5 967.57 1716.79 968.5 1717.6 969.6 1719.11 970.01 1720.4 970.67 1721.58 971.71 1722.5 972.87 1723.09 974.37 1724.2 975.73 1726.18 975.56 1728 975 1728.88 976.03 1729.68 977.08 1730 978.27 1732.9 977.6 1734.5 976.97 1736.2 976.47 1737.12 977.48 1737.14 978.69 1737.4 979.85 1738.3 980.87 1740.26 980.96 1742.2 981.2 1744.3 980.87 1745.24 981.99 1744.97 983.36 1746 984.47 1747.34 985.16 1748.4 986.01 1749.2 987 1750.28 987.91 1751.4 988.8 1752.12 990.08 1753.34 991.2 1754.1 992.47 1756.9 992.8 1758.3 993.75 1759 995 1759.91 993.66 1761.2 992.47 1763.34 991.79 1765 990.67 1766.29 991.98 1768.3 992.8 1769.29 993.95 1769.57 995.3 1770.5 996.47 1771.59 997.86 1773.2 999 1774.3 1000.07 1775.9 1000.8 1778.1 1001.53 1779.14 1002.51 1779.66 1003.6 1779.7 1004.8 1781.18 1005.72 1781.84 1007 1783 1008.07 1784.6 1006.6 1785.96 1007.4 1786.8 1008.47 1788.26 1007.72 1789 1006.6 1791.2 1007 1792.25 1007.98 1792.8 1009.13 1795 1009.87 1796.61 1008.77 1798.3 1007.73 1798.86 1006.62 1800.48 1005.93 1801 1004.8 1802.56 1005.56 1803.7 1006.6 1804.49 1007.73 1805.01 1008.92 1805.66 1010.09 1805.9 1011.33 1806.99 1012.21 1806.95 1013.42 1808.34 1014.21 1808.6 1015.33 1809.36 1016.37 1810.2 1017.39 1810.2 1018.6 1810.8 1019.67 1813 1020.07 1815.7 1019 1816.8 1017.9 1817.9 1016.8 1819.35 1015.88 1819.6 1014.43 1821.1 1013.53 1823.9 1013.87 1825.66 1013.81 1827.1 1013.13 1829.02 1013.86 1830.4 1015 1831.87 1016 1833.1 1017.13 1833.23 1018.45 1833.85 1019.66 1834.8 1020.8 1835.5 1021.88 1836.9 1022.6 1838.08 1021.68 1839.7 1021.13 1840.27 1020.04 1841.36 1019.16 1842.4 1018.27 1844.6 1016.8 1846.5 1016.68 1848.4 1016.8 1849.21 1018.03 1850.65 1019.05 1851.1 1020.4 1852.7 1021.18 1854.4 1021.87 1856.45 1021.88 1858.2 1022.6 1859.28 1023.81 1860 1025.13 1861.08 1024.31 1861.86 1023.33 1863.1 1022.6 1864.95 1022.51 1866.76 1022.29 1868.5 1021.87 1869.23 1023.17 1870.2 1024.4 1872.12 1024.73 1874 1025.13 1875.43 1026.36 1876.7 1027.67 1878.9 1028.04 1881.1 1028.4 1882.12 1027.41 1882.96 1026.37 1882.84 1025.07 1883.8 1024.07 1885.68 1023.91 1887.3 1023.27 1889.5 1022.07 1890.36 1022.99 1891.6 1023.69 1892.7 1024.47 1893.52 1025.47 1893.97 1026.6 1895 1027.53 1895.16 1028.73 1896.3 1029.67 1898.6 1031.13 1899.58 1032.07 1900.6 1033 1903.2 1032.07 1904.6 1031.43 1906.3 1031.47 1907.78 1030.45 1909.1 1029.33 1910.18 1028 1911.8 1026.93 1914.1 1028.4 1915.22 1029.4 1915.49 1030.65 1916.3 1031.73 1918.6 1031.57 1920.9 1031.73 1922.07 1030.62 1922.7 1029.33 1924 1030.53 1925.33 1029.58 1926.8 1028.73 1927.42 1027.7 1926.77 1026.56 1927.97 1025.58 1927.7 1024.47 1929 1023.87 1930.26 1024.9 1931.8 1025.73 1933.51 1026.4 1934.5 1027.53 1935.54 1026.7 1937.22 1026.35 1938.1 1025.4 1938.48 1026.68 1939.5 1027.8 1941.12 1028.13 1942.2 1029 1943.92 1028.77 1945.4 1028.13 1946.07 1029.11 1946.67 1030.12 1947.2 1031.13 1948.6 1032.67 1951.7 1032.67 1953.33 1031.93 1954.5 1030.87 1957.2 1031.73 1958.96 1031.35 1960.8 1031.47 1963.1 1032.67 1964.4 1033.87 1966.3 1032.33 1967.4 1030.53 1968.28 1031.78 1969.4 1032.93 1972.2 1033.27 1973.01 1034.33 1973.03 1035.58 1974 1036.6 1975.61 1036.26 1976.7 1035.4 1979.4 1035.07 1981.7 1033.6 1984 1032.67 1985.9 1033.27 1988 1033.27 1989.9 1034.47 1990.6 1033.15 1991.9 1032.07 1993.52 1032.94 1994.4 1034.2 1996.2 1033.6 1997.16 1034.61 1998 1035.67 2000.3 1035.4 2001.14 1036.39 2001.2 1037.53 2003 1036.93 2003.5 1038.73 2005.14 1038.67 2006.7 1039 2008.9 1039.93 2011 1041.47 2012.1 1039.93 2013.77 1039.86 2015.46 1039.9 2017.1 1039.6 2019.4 1038.4 2019.93 1037.35 2020.3 1036.27 2023 1036 2024.05 1036.9 2025.7 1037.2 2027.48 1036.44 2028.9 1035.4 2029.71 1036.53 2031.3 1037.2 2033 1035.4 2034.1 1037.2 2035.11 1036.25 2035.77 1035.15 2036.8 1034.2 2039.3 1034.47 2040.97 1034.15 2042.1 1033.27 2044.3 1033.27 2045.38 1032.39 2046.41 1031.5 2047.3 1030.53 2048.87 1031.59 2049.8 1032.93 2050.67 1034.2 2051.2 1035.52 2051.1 1036.93 2052.41 1038.01 2053 1039.33 2055 1038.73 2055.7 1040.2 2057.27 1039.9 2058.9 1039.93 2060.13 1038.68 2061.6 1037.53 2062.2 1035.53 2064.1 1035.2 2064.86 1036.19 2066 1037 2067.27 1036.11 2068.7 1035.33 2070.9 1036.27 2073.1 1036.27 2075.8 1037.2 2077.2 1036.2 2078.8 1035.33 2081.2 1036.27 2083.4 1037 2085.6 1036.07 2087.8 1036.27 2089.1 1037.87 2091 1039.53 2092.95 1039.49 2094.9 1039.53 2096.2 1041.13 2097.22 1042.46 2098.4 1043.73 2100.14 1043.09 2101.4 1042.07 2102.32 1040.87 2102.2 1039.53 2103.6 1037.87 2105.5 1039.53 2106 1041.13 2106.88 1040.2 2108.2 1039.53 2109.36 1038.48 2110.7 1037.53 2112.27 1037.01 2113.9 1036.6 2115.12 1035.59 2116.1 1034.47 2116.91 1033.22 2118 1032.07 2119.6 1033.87 2120.76 1035.08 2121.3 1036.47 2122.6 1037.87 2124.8 1038.47 2126.2 1036.8 2127.5 1037 2129.4 1038.47 2130.8 1038.27 2132.27 1037.45 2133 1036.27 2135.2 1034.8 2136.1 1033.73 2137.3 1032.8 2139 1031.33" stroke="#000" stroke-width="1.5" fill="none" stroke-linejoin="round"/>
</g>
</svg></body></html>
